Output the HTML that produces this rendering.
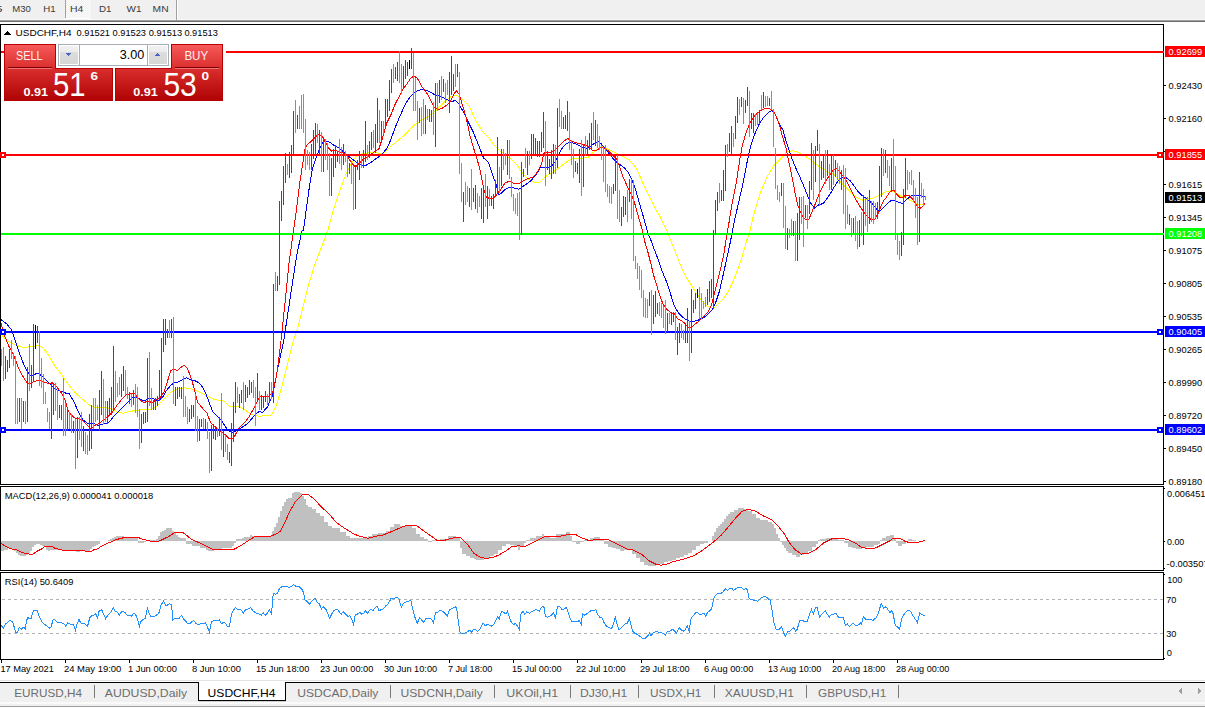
<!DOCTYPE html>
<html><head><meta charset="utf-8"><style>
html,body{margin:0;padding:0;background:#fff;}
#root{position:relative;width:1205px;height:709px;overflow:hidden;font-family:"Liberation Sans", sans-serif;}
svg{position:absolute;left:0;top:0;}
svg text{font-family:"Liberation Sans", sans-serif;}
</style></head><body><div id="root">
<svg width="1205" height="709" viewBox="0 0 1205 709" shape-rendering="crispEdges">
<defs>
<pattern id="dith" width="2" height="2" patternUnits="userSpaceOnUse"><rect width="2" height="2" fill="#f0f0f0"/><rect width="1" height="1" fill="#fcfcfc"/><rect x="1" y="1" width="1" height="1" fill="#fcfcfc"/></pattern>
<linearGradient id="gsell" x1="0" y1="45" x2="0" y2="100" gradientUnits="userSpaceOnUse"><stop offset="0" stop-color="#f65a5a"/><stop offset="0.4" stop-color="#dc3030"/><stop offset="1" stop-color="#b00404"/></linearGradient>
<linearGradient id="gbtn" x1="0" y1="0" x2="0" y2="1"><stop offset="0" stop-color="#f2f2f2"/><stop offset="0.33" stop-color="#ebebeb"/><stop offset="0.34" stop-color="#dddddd"/><stop offset="1" stop-color="#d6d6d6"/></linearGradient>
</defs>
<rect x="0" y="0" width="1205" height="20" fill="#f0f0f0"/>
<rect x="0" y="19" width="1205" height="1" fill="#f7f7f7"/>
<rect x="0" y="20" width="1205" height="1" fill="#a0a0a0"/>
<rect x="0" y="21" width="1205" height="1" fill="#6e6e6e"/>
<rect x="66" y="0" width="25" height="18" fill="url(#dith)"/>
<rect x="65" y="0" width="1" height="18" fill="#a0a0a0"/>
<rect x="66" y="18" width="25" height="1" fill="#ffffff"/>
<rect x="176" y="0" width="1" height="20" fill="#a0a0a0"/>
<rect x="177" y="0" width="1" height="20" fill="#ffffff"/>
<text x="-4.6" y="12" font-size="9.8" fill="#3a3a3a" textLength="7.0" lengthAdjust="spacingAndGlyphs">5</text>
<text x="12.2" y="12" font-size="9.8" fill="#3a3a3a" textLength="18.6" lengthAdjust="spacingAndGlyphs">M30</text>
<text x="43.2" y="12" font-size="9.8" fill="#3a3a3a" textLength="12.4" lengthAdjust="spacingAndGlyphs">H1</text>
<text x="70.1" y="12" font-size="9.8" fill="#3a3a3a" textLength="13.3" lengthAdjust="spacingAndGlyphs">H4</text>
<text x="99.0" y="12" font-size="9.8" fill="#3a3a3a" textLength="12.5" lengthAdjust="spacingAndGlyphs">D1</text>
<text x="126.5" y="12" font-size="9.8" fill="#3a3a3a" textLength="15" lengthAdjust="spacingAndGlyphs">W1</text>
<text x="152.6" y="12" font-size="9.8" fill="#3a3a3a" textLength="16" lengthAdjust="spacingAndGlyphs">MN</text>
<rect x="0" y="541" width="2" height="10" fill="#c0c0c0"/>
<rect x="2" y="541" width="2" height="10" fill="#c0c0c0"/>
<rect x="4" y="541" width="2" height="9" fill="#c0c0c0"/>
<rect x="6" y="541" width="2" height="9" fill="#c0c0c0"/>
<rect x="8" y="541" width="2" height="7" fill="#c0c0c0"/>
<rect x="10" y="541" width="2" height="7" fill="#c0c0c0"/>
<rect x="12" y="541" width="2" height="8" fill="#c0c0c0"/>
<rect x="14" y="541" width="2" height="10" fill="#c0c0c0"/>
<rect x="16" y="541" width="2" height="12" fill="#c0c0c0"/>
<rect x="18" y="541" width="2" height="14" fill="#c0c0c0"/>
<rect x="20" y="541" width="2" height="15" fill="#c0c0c0"/>
<rect x="22" y="541" width="2" height="15" fill="#c0c0c0"/>
<rect x="24" y="541" width="2" height="15" fill="#c0c0c0"/>
<rect x="26" y="541" width="2" height="14" fill="#c0c0c0"/>
<rect x="28" y="541" width="2" height="12" fill="#c0c0c0"/>
<rect x="30" y="541" width="2" height="10" fill="#c0c0c0"/>
<rect x="32" y="541" width="2" height="6" fill="#c0c0c0"/>
<rect x="34" y="541" width="2" height="4" fill="#c0c0c0"/>
<rect x="36" y="541" width="2" height="3" fill="#c0c0c0"/>
<rect x="38" y="541" width="2" height="3" fill="#c0c0c0"/>
<rect x="40" y="541" width="2" height="4" fill="#c0c0c0"/>
<rect x="42" y="541" width="2" height="5" fill="#c0c0c0"/>
<rect x="44" y="541" width="2" height="6" fill="#c0c0c0"/>
<rect x="46" y="541" width="2" height="9" fill="#c0c0c0"/>
<rect x="48" y="541" width="2" height="10" fill="#c0c0c0"/>
<rect x="50" y="541" width="2" height="9" fill="#c0c0c0"/>
<rect x="52" y="541" width="2" height="9" fill="#c0c0c0"/>
<rect x="54" y="541" width="2" height="9" fill="#c0c0c0"/>
<rect x="56" y="541" width="2" height="9" fill="#c0c0c0"/>
<rect x="58" y="541" width="2" height="8" fill="#c0c0c0"/>
<rect x="60" y="541" width="2" height="8" fill="#c0c0c0"/>
<rect x="62" y="541" width="2" height="9" fill="#c0c0c0"/>
<rect x="64" y="541" width="2" height="9" fill="#c0c0c0"/>
<rect x="66" y="541" width="2" height="10" fill="#c0c0c0"/>
<rect x="68" y="541" width="2" height="10" fill="#c0c0c0"/>
<rect x="70" y="541" width="2" height="10" fill="#c0c0c0"/>
<rect x="72" y="541" width="2" height="10" fill="#c0c0c0"/>
<rect x="74" y="541" width="2" height="10" fill="#c0c0c0"/>
<rect x="76" y="541" width="2" height="11" fill="#c0c0c0"/>
<rect x="78" y="541" width="2" height="11" fill="#c0c0c0"/>
<rect x="80" y="541" width="2" height="10" fill="#c0c0c0"/>
<rect x="82" y="541" width="2" height="10" fill="#c0c0c0"/>
<rect x="84" y="541" width="2" height="10" fill="#c0c0c0"/>
<rect x="86" y="541" width="2" height="10" fill="#c0c0c0"/>
<rect x="88" y="541" width="2" height="10" fill="#c0c0c0"/>
<rect x="90" y="541" width="2" height="8" fill="#c0c0c0"/>
<rect x="92" y="541" width="2" height="6" fill="#c0c0c0"/>
<rect x="94" y="541" width="2" height="5" fill="#c0c0c0"/>
<rect x="96" y="541" width="2" height="4" fill="#c0c0c0"/>
<rect x="98" y="541" width="2" height="3" fill="#c0c0c0"/>
<rect x="108" y="540" width="2" height="1" fill="#c0c0c0"/>
<rect x="110" y="539" width="2" height="2" fill="#c0c0c0"/>
<rect x="112" y="538" width="2" height="3" fill="#c0c0c0"/>
<rect x="114" y="537" width="2" height="4" fill="#c0c0c0"/>
<rect x="116" y="536" width="2" height="5" fill="#c0c0c0"/>
<rect x="118" y="536" width="2" height="5" fill="#c0c0c0"/>
<rect x="120" y="536" width="2" height="5" fill="#c0c0c0"/>
<rect x="122" y="536" width="2" height="5" fill="#c0c0c0"/>
<rect x="124" y="537" width="2" height="4" fill="#c0c0c0"/>
<rect x="126" y="538" width="2" height="3" fill="#c0c0c0"/>
<rect x="128" y="538" width="2" height="3" fill="#c0c0c0"/>
<rect x="130" y="538" width="2" height="3" fill="#c0c0c0"/>
<rect x="132" y="538" width="2" height="3" fill="#c0c0c0"/>
<rect x="134" y="538" width="2" height="3" fill="#c0c0c0"/>
<rect x="136" y="538" width="2" height="3" fill="#c0c0c0"/>
<rect x="138" y="541" width="2" height="2" fill="#c0c0c0"/>
<rect x="140" y="541" width="2" height="2" fill="#c0c0c0"/>
<rect x="142" y="541" width="2" height="2" fill="#c0c0c0"/>
<rect x="144" y="541" width="2" height="1" fill="#c0c0c0"/>
<rect x="146" y="540" width="2" height="1" fill="#c0c0c0"/>
<rect x="148" y="540" width="2" height="1" fill="#c0c0c0"/>
<rect x="150" y="540" width="2" height="1" fill="#c0c0c0"/>
<rect x="152" y="540" width="2" height="1" fill="#c0c0c0"/>
<rect x="154" y="540" width="2" height="1" fill="#c0c0c0"/>
<rect x="156" y="539" width="2" height="2" fill="#c0c0c0"/>
<rect x="158" y="536" width="2" height="5" fill="#c0c0c0"/>
<rect x="160" y="532" width="2" height="9" fill="#c0c0c0"/>
<rect x="162" y="531" width="2" height="10" fill="#c0c0c0"/>
<rect x="164" y="530" width="2" height="11" fill="#c0c0c0"/>
<rect x="166" y="528" width="2" height="13" fill="#c0c0c0"/>
<rect x="168" y="528" width="2" height="13" fill="#c0c0c0"/>
<rect x="170" y="528" width="2" height="13" fill="#c0c0c0"/>
<rect x="172" y="531" width="2" height="10" fill="#c0c0c0"/>
<rect x="174" y="533" width="2" height="8" fill="#c0c0c0"/>
<rect x="176" y="535" width="2" height="6" fill="#c0c0c0"/>
<rect x="178" y="537" width="2" height="4" fill="#c0c0c0"/>
<rect x="180" y="538" width="2" height="3" fill="#c0c0c0"/>
<rect x="182" y="538" width="2" height="3" fill="#c0c0c0"/>
<rect x="184" y="538" width="2" height="3" fill="#c0c0c0"/>
<rect x="186" y="541" width="2" height="3" fill="#c0c0c0"/>
<rect x="188" y="541" width="2" height="3" fill="#c0c0c0"/>
<rect x="190" y="541" width="2" height="3" fill="#c0c0c0"/>
<rect x="192" y="541" width="2" height="5" fill="#c0c0c0"/>
<rect x="194" y="541" width="2" height="5" fill="#c0c0c0"/>
<rect x="196" y="541" width="2" height="5" fill="#c0c0c0"/>
<rect x="198" y="541" width="2" height="5" fill="#c0c0c0"/>
<rect x="200" y="541" width="2" height="7" fill="#c0c0c0"/>
<rect x="202" y="541" width="2" height="7" fill="#c0c0c0"/>
<rect x="204" y="541" width="2" height="7" fill="#c0c0c0"/>
<rect x="206" y="541" width="2" height="9" fill="#c0c0c0"/>
<rect x="208" y="541" width="2" height="10" fill="#c0c0c0"/>
<rect x="210" y="541" width="2" height="10" fill="#c0c0c0"/>
<rect x="212" y="541" width="2" height="10" fill="#c0c0c0"/>
<rect x="214" y="541" width="2" height="9" fill="#c0c0c0"/>
<rect x="216" y="541" width="2" height="9" fill="#c0c0c0"/>
<rect x="218" y="541" width="2" height="9" fill="#c0c0c0"/>
<rect x="220" y="541" width="2" height="8" fill="#c0c0c0"/>
<rect x="222" y="541" width="2" height="7" fill="#c0c0c0"/>
<rect x="224" y="541" width="2" height="7" fill="#c0c0c0"/>
<rect x="226" y="541" width="2" height="7" fill="#c0c0c0"/>
<rect x="228" y="541" width="2" height="7" fill="#c0c0c0"/>
<rect x="230" y="541" width="2" height="7" fill="#c0c0c0"/>
<rect x="232" y="541" width="2" height="5" fill="#c0c0c0"/>
<rect x="234" y="541" width="2" height="2" fill="#c0c0c0"/>
<rect x="236" y="539" width="2" height="2" fill="#c0c0c0"/>
<rect x="238" y="539" width="2" height="2" fill="#c0c0c0"/>
<rect x="240" y="539" width="2" height="2" fill="#c0c0c0"/>
<rect x="242" y="538" width="2" height="3" fill="#c0c0c0"/>
<rect x="244" y="537" width="2" height="4" fill="#c0c0c0"/>
<rect x="246" y="537" width="2" height="4" fill="#c0c0c0"/>
<rect x="248" y="537" width="2" height="4" fill="#c0c0c0"/>
<rect x="250" y="535" width="2" height="6" fill="#c0c0c0"/>
<rect x="252" y="536" width="2" height="5" fill="#c0c0c0"/>
<rect x="254" y="536" width="2" height="5" fill="#c0c0c0"/>
<rect x="256" y="536" width="2" height="5" fill="#c0c0c0"/>
<rect x="258" y="536" width="2" height="5" fill="#c0c0c0"/>
<rect x="260" y="536" width="2" height="5" fill="#c0c0c0"/>
<rect x="262" y="536" width="2" height="5" fill="#c0c0c0"/>
<rect x="264" y="536" width="2" height="5" fill="#c0c0c0"/>
<rect x="266" y="536" width="2" height="5" fill="#c0c0c0"/>
<rect x="268" y="536" width="2" height="5" fill="#c0c0c0"/>
<rect x="270" y="536" width="2" height="5" fill="#c0c0c0"/>
<rect x="272" y="531" width="2" height="10" fill="#c0c0c0"/>
<rect x="274" y="527" width="2" height="14" fill="#c0c0c0"/>
<rect x="276" y="523" width="2" height="18" fill="#c0c0c0"/>
<rect x="278" y="517" width="2" height="24" fill="#c0c0c0"/>
<rect x="280" y="511" width="2" height="30" fill="#c0c0c0"/>
<rect x="282" y="506" width="2" height="35" fill="#c0c0c0"/>
<rect x="284" y="502" width="2" height="39" fill="#c0c0c0"/>
<rect x="286" y="499" width="2" height="42" fill="#c0c0c0"/>
<rect x="288" y="498" width="2" height="43" fill="#c0c0c0"/>
<rect x="290" y="498" width="2" height="43" fill="#c0c0c0"/>
<rect x="292" y="493" width="2" height="48" fill="#c0c0c0"/>
<rect x="294" y="492" width="2" height="49" fill="#c0c0c0"/>
<rect x="296" y="492" width="2" height="49" fill="#c0c0c0"/>
<rect x="298" y="492" width="2" height="49" fill="#c0c0c0"/>
<rect x="300" y="493" width="2" height="48" fill="#c0c0c0"/>
<rect x="302" y="496" width="2" height="45" fill="#c0c0c0"/>
<rect x="304" y="499" width="2" height="42" fill="#c0c0c0"/>
<rect x="306" y="505" width="2" height="36" fill="#c0c0c0"/>
<rect x="308" y="507" width="2" height="34" fill="#c0c0c0"/>
<rect x="310" y="507" width="2" height="34" fill="#c0c0c0"/>
<rect x="312" y="509" width="2" height="32" fill="#c0c0c0"/>
<rect x="314" y="509" width="2" height="32" fill="#c0c0c0"/>
<rect x="316" y="513" width="2" height="28" fill="#c0c0c0"/>
<rect x="318" y="513" width="2" height="28" fill="#c0c0c0"/>
<rect x="320" y="516" width="2" height="25" fill="#c0c0c0"/>
<rect x="322" y="516" width="2" height="25" fill="#c0c0c0"/>
<rect x="324" y="522" width="2" height="19" fill="#c0c0c0"/>
<rect x="326" y="522" width="2" height="19" fill="#c0c0c0"/>
<rect x="328" y="526" width="2" height="15" fill="#c0c0c0"/>
<rect x="330" y="526" width="2" height="15" fill="#c0c0c0"/>
<rect x="332" y="528" width="2" height="13" fill="#c0c0c0"/>
<rect x="334" y="528" width="2" height="13" fill="#c0c0c0"/>
<rect x="336" y="528" width="2" height="13" fill="#c0c0c0"/>
<rect x="338" y="528" width="2" height="13" fill="#c0c0c0"/>
<rect x="340" y="532" width="2" height="9" fill="#c0c0c0"/>
<rect x="342" y="532" width="2" height="9" fill="#c0c0c0"/>
<rect x="344" y="532" width="2" height="9" fill="#c0c0c0"/>
<rect x="346" y="536" width="2" height="5" fill="#c0c0c0"/>
<rect x="348" y="536" width="2" height="5" fill="#c0c0c0"/>
<rect x="350" y="538" width="2" height="3" fill="#c0c0c0"/>
<rect x="352" y="538" width="2" height="3" fill="#c0c0c0"/>
<rect x="354" y="538" width="2" height="3" fill="#c0c0c0"/>
<rect x="356" y="538" width="2" height="3" fill="#c0c0c0"/>
<rect x="358" y="538" width="2" height="3" fill="#c0c0c0"/>
<rect x="360" y="538" width="2" height="3" fill="#c0c0c0"/>
<rect x="362" y="538" width="2" height="3" fill="#c0c0c0"/>
<rect x="364" y="538" width="2" height="3" fill="#c0c0c0"/>
<rect x="366" y="538" width="2" height="3" fill="#c0c0c0"/>
<rect x="368" y="536" width="2" height="5" fill="#c0c0c0"/>
<rect x="370" y="536" width="2" height="5" fill="#c0c0c0"/>
<rect x="372" y="534" width="2" height="7" fill="#c0c0c0"/>
<rect x="374" y="534" width="2" height="7" fill="#c0c0c0"/>
<rect x="376" y="534" width="2" height="7" fill="#c0c0c0"/>
<rect x="378" y="533" width="2" height="8" fill="#c0c0c0"/>
<rect x="380" y="533" width="2" height="8" fill="#c0c0c0"/>
<rect x="382" y="533" width="2" height="8" fill="#c0c0c0"/>
<rect x="384" y="533" width="2" height="8" fill="#c0c0c0"/>
<rect x="386" y="531" width="2" height="10" fill="#c0c0c0"/>
<rect x="388" y="531" width="2" height="10" fill="#c0c0c0"/>
<rect x="390" y="527" width="2" height="14" fill="#c0c0c0"/>
<rect x="392" y="527" width="2" height="14" fill="#c0c0c0"/>
<rect x="394" y="524" width="2" height="17" fill="#c0c0c0"/>
<rect x="396" y="524" width="2" height="17" fill="#c0c0c0"/>
<rect x="398" y="524" width="2" height="17" fill="#c0c0c0"/>
<rect x="400" y="526" width="2" height="15" fill="#c0c0c0"/>
<rect x="402" y="526" width="2" height="15" fill="#c0c0c0"/>
<rect x="404" y="526" width="2" height="15" fill="#c0c0c0"/>
<rect x="406" y="526" width="2" height="15" fill="#c0c0c0"/>
<rect x="408" y="526" width="2" height="15" fill="#c0c0c0"/>
<rect x="410" y="526" width="2" height="15" fill="#c0c0c0"/>
<rect x="412" y="528" width="2" height="13" fill="#c0c0c0"/>
<rect x="414" y="528" width="2" height="13" fill="#c0c0c0"/>
<rect x="416" y="534" width="2" height="7" fill="#c0c0c0"/>
<rect x="418" y="534" width="2" height="7" fill="#c0c0c0"/>
<rect x="420" y="537" width="2" height="4" fill="#c0c0c0"/>
<rect x="422" y="537" width="2" height="4" fill="#c0c0c0"/>
<rect x="424" y="539" width="2" height="2" fill="#c0c0c0"/>
<rect x="426" y="539" width="2" height="2" fill="#c0c0c0"/>
<rect x="428" y="541" width="2" height="1" fill="#c0c0c0"/>
<rect x="430" y="541" width="2" height="1" fill="#c0c0c0"/>
<rect x="432" y="540" width="2" height="1" fill="#c0c0c0"/>
<rect x="434" y="540" width="2" height="1" fill="#c0c0c0"/>
<rect x="436" y="540" width="2" height="1" fill="#c0c0c0"/>
<rect x="438" y="540" width="2" height="1" fill="#c0c0c0"/>
<rect x="440" y="539" width="2" height="2" fill="#c0c0c0"/>
<rect x="442" y="539" width="2" height="2" fill="#c0c0c0"/>
<rect x="444" y="539" width="2" height="2" fill="#c0c0c0"/>
<rect x="446" y="539" width="2" height="2" fill="#c0c0c0"/>
<rect x="448" y="536" width="2" height="5" fill="#c0c0c0"/>
<rect x="450" y="536" width="2" height="5" fill="#c0c0c0"/>
<rect x="452" y="536" width="2" height="5" fill="#c0c0c0"/>
<rect x="454" y="536" width="2" height="5" fill="#c0c0c0"/>
<rect x="456" y="537" width="2" height="4" fill="#c0c0c0"/>
<rect x="458" y="537" width="2" height="4" fill="#c0c0c0"/>
<rect x="460" y="541" width="2" height="7" fill="#c0c0c0"/>
<rect x="462" y="541" width="2" height="13" fill="#c0c0c0"/>
<rect x="464" y="541" width="2" height="13" fill="#c0c0c0"/>
<rect x="466" y="541" width="2" height="15" fill="#c0c0c0"/>
<rect x="468" y="541" width="2" height="15" fill="#c0c0c0"/>
<rect x="470" y="541" width="2" height="17" fill="#c0c0c0"/>
<rect x="472" y="541" width="2" height="17" fill="#c0c0c0"/>
<rect x="474" y="541" width="2" height="18" fill="#c0c0c0"/>
<rect x="476" y="541" width="2" height="19" fill="#c0c0c0"/>
<rect x="478" y="541" width="2" height="19" fill="#c0c0c0"/>
<rect x="480" y="541" width="2" height="19" fill="#c0c0c0"/>
<rect x="482" y="541" width="2" height="19" fill="#c0c0c0"/>
<rect x="484" y="541" width="2" height="17" fill="#c0c0c0"/>
<rect x="486" y="541" width="2" height="17" fill="#c0c0c0"/>
<rect x="488" y="541" width="2" height="17" fill="#c0c0c0"/>
<rect x="490" y="541" width="2" height="15" fill="#c0c0c0"/>
<rect x="492" y="541" width="2" height="15" fill="#c0c0c0"/>
<rect x="494" y="541" width="2" height="13" fill="#c0c0c0"/>
<rect x="496" y="541" width="2" height="13" fill="#c0c0c0"/>
<rect x="498" y="541" width="2" height="9" fill="#c0c0c0"/>
<rect x="500" y="541" width="2" height="9" fill="#c0c0c0"/>
<rect x="502" y="541" width="2" height="5" fill="#c0c0c0"/>
<rect x="504" y="541" width="2" height="5" fill="#c0c0c0"/>
<rect x="506" y="541" width="2" height="3" fill="#c0c0c0"/>
<rect x="508" y="541" width="2" height="3" fill="#c0c0c0"/>
<rect x="510" y="541" width="2" height="4" fill="#c0c0c0"/>
<rect x="512" y="541" width="2" height="4" fill="#c0c0c0"/>
<rect x="514" y="541" width="2" height="5" fill="#c0c0c0"/>
<rect x="516" y="541" width="2" height="5" fill="#c0c0c0"/>
<rect x="518" y="541" width="2" height="9" fill="#c0c0c0"/>
<rect x="520" y="541" width="2" height="5" fill="#c0c0c0"/>
<rect x="522" y="541" width="2" height="5" fill="#c0c0c0"/>
<rect x="524" y="541" width="2" height="2" fill="#c0c0c0"/>
<rect x="526" y="540" width="2" height="1" fill="#c0c0c0"/>
<rect x="528" y="540" width="2" height="1" fill="#c0c0c0"/>
<rect x="530" y="538" width="2" height="3" fill="#c0c0c0"/>
<rect x="532" y="538" width="2" height="3" fill="#c0c0c0"/>
<rect x="534" y="538" width="2" height="3" fill="#c0c0c0"/>
<rect x="536" y="536" width="2" height="5" fill="#c0c0c0"/>
<rect x="538" y="536" width="2" height="5" fill="#c0c0c0"/>
<rect x="540" y="536" width="2" height="5" fill="#c0c0c0"/>
<rect x="542" y="534" width="2" height="7" fill="#c0c0c0"/>
<rect x="544" y="537" width="2" height="4" fill="#c0c0c0"/>
<rect x="546" y="537" width="2" height="4" fill="#c0c0c0"/>
<rect x="548" y="537" width="2" height="4" fill="#c0c0c0"/>
<rect x="550" y="538" width="2" height="3" fill="#c0c0c0"/>
<rect x="552" y="538" width="2" height="3" fill="#c0c0c0"/>
<rect x="554" y="538" width="2" height="3" fill="#c0c0c0"/>
<rect x="556" y="534" width="2" height="7" fill="#c0c0c0"/>
<rect x="558" y="534" width="2" height="7" fill="#c0c0c0"/>
<rect x="560" y="534" width="2" height="7" fill="#c0c0c0"/>
<rect x="562" y="534" width="2" height="7" fill="#c0c0c0"/>
<rect x="564" y="534" width="2" height="7" fill="#c0c0c0"/>
<rect x="566" y="532" width="2" height="9" fill="#c0c0c0"/>
<rect x="568" y="532" width="2" height="9" fill="#c0c0c0"/>
<rect x="570" y="536" width="2" height="5" fill="#c0c0c0"/>
<rect x="572" y="541" width="2" height="1" fill="#c0c0c0"/>
<rect x="574" y="541" width="2" height="1" fill="#c0c0c0"/>
<rect x="576" y="541" width="2" height="3" fill="#c0c0c0"/>
<rect x="578" y="541" width="2" height="3" fill="#c0c0c0"/>
<rect x="580" y="541" width="2" height="1" fill="#c0c0c0"/>
<rect x="582" y="541" width="2" height="1" fill="#c0c0c0"/>
<rect x="584" y="540" width="2" height="1" fill="#c0c0c0"/>
<rect x="586" y="540" width="2" height="1" fill="#c0c0c0"/>
<rect x="588" y="540" width="2" height="1" fill="#c0c0c0"/>
<rect x="590" y="538" width="2" height="3" fill="#c0c0c0"/>
<rect x="592" y="538" width="2" height="3" fill="#c0c0c0"/>
<rect x="594" y="537" width="2" height="4" fill="#c0c0c0"/>
<rect x="596" y="537" width="2" height="4" fill="#c0c0c0"/>
<rect x="598" y="537" width="2" height="4" fill="#c0c0c0"/>
<rect x="600" y="539" width="2" height="2" fill="#c0c0c0"/>
<rect x="602" y="539" width="2" height="2" fill="#c0c0c0"/>
<rect x="604" y="541" width="2" height="3" fill="#c0c0c0"/>
<rect x="606" y="541" width="2" height="3" fill="#c0c0c0"/>
<rect x="608" y="541" width="2" height="6" fill="#c0c0c0"/>
<rect x="610" y="541" width="2" height="6" fill="#c0c0c0"/>
<rect x="612" y="541" width="2" height="7" fill="#c0c0c0"/>
<rect x="614" y="541" width="2" height="7" fill="#c0c0c0"/>
<rect x="616" y="541" width="2" height="8" fill="#c0c0c0"/>
<rect x="618" y="541" width="2" height="8" fill="#c0c0c0"/>
<rect x="620" y="541" width="2" height="10" fill="#c0c0c0"/>
<rect x="622" y="541" width="2" height="10" fill="#c0c0c0"/>
<rect x="624" y="541" width="2" height="9" fill="#c0c0c0"/>
<rect x="626" y="541" width="2" height="9" fill="#c0c0c0"/>
<rect x="628" y="541" width="2" height="9" fill="#c0c0c0"/>
<rect x="630" y="541" width="2" height="9" fill="#c0c0c0"/>
<rect x="632" y="541" width="2" height="13" fill="#c0c0c0"/>
<rect x="634" y="541" width="2" height="13" fill="#c0c0c0"/>
<rect x="636" y="541" width="2" height="17" fill="#c0c0c0"/>
<rect x="638" y="541" width="2" height="17" fill="#c0c0c0"/>
<rect x="640" y="541" width="2" height="21" fill="#c0c0c0"/>
<rect x="642" y="541" width="2" height="21" fill="#c0c0c0"/>
<rect x="644" y="541" width="2" height="24" fill="#c0c0c0"/>
<rect x="646" y="541" width="2" height="24" fill="#c0c0c0"/>
<rect x="648" y="541" width="2" height="25" fill="#c0c0c0"/>
<rect x="650" y="541" width="2" height="25" fill="#c0c0c0"/>
<rect x="652" y="541" width="2" height="25" fill="#c0c0c0"/>
<rect x="654" y="541" width="2" height="25" fill="#c0c0c0"/>
<rect x="656" y="541" width="2" height="23" fill="#c0c0c0"/>
<rect x="658" y="541" width="2" height="23" fill="#c0c0c0"/>
<rect x="660" y="541" width="2" height="23" fill="#c0c0c0"/>
<rect x="662" y="541" width="2" height="23" fill="#c0c0c0"/>
<rect x="664" y="541" width="2" height="21" fill="#c0c0c0"/>
<rect x="666" y="541" width="2" height="21" fill="#c0c0c0"/>
<rect x="668" y="541" width="2" height="20" fill="#c0c0c0"/>
<rect x="670" y="541" width="2" height="20" fill="#c0c0c0"/>
<rect x="672" y="541" width="2" height="19" fill="#c0c0c0"/>
<rect x="674" y="541" width="2" height="19" fill="#c0c0c0"/>
<rect x="676" y="541" width="2" height="17" fill="#c0c0c0"/>
<rect x="678" y="541" width="2" height="17" fill="#c0c0c0"/>
<rect x="680" y="541" width="2" height="16" fill="#c0c0c0"/>
<rect x="682" y="541" width="2" height="16" fill="#c0c0c0"/>
<rect x="684" y="541" width="2" height="14" fill="#c0c0c0"/>
<rect x="686" y="541" width="2" height="14" fill="#c0c0c0"/>
<rect x="688" y="541" width="2" height="12" fill="#c0c0c0"/>
<rect x="690" y="541" width="2" height="12" fill="#c0c0c0"/>
<rect x="692" y="541" width="2" height="9" fill="#c0c0c0"/>
<rect x="694" y="541" width="2" height="9" fill="#c0c0c0"/>
<rect x="696" y="541" width="2" height="5" fill="#c0c0c0"/>
<rect x="698" y="541" width="2" height="5" fill="#c0c0c0"/>
<rect x="700" y="541" width="2" height="3" fill="#c0c0c0"/>
<rect x="702" y="541" width="2" height="3" fill="#c0c0c0"/>
<rect x="704" y="541" width="2" height="2" fill="#c0c0c0"/>
<rect x="706" y="541" width="2" height="2" fill="#c0c0c0"/>
<rect x="712" y="536" width="2" height="5" fill="#c0c0c0"/>
<rect x="714" y="532" width="2" height="9" fill="#c0c0c0"/>
<rect x="716" y="528" width="2" height="13" fill="#c0c0c0"/>
<rect x="718" y="526" width="2" height="15" fill="#c0c0c0"/>
<rect x="720" y="524" width="2" height="17" fill="#c0c0c0"/>
<rect x="722" y="522" width="2" height="19" fill="#c0c0c0"/>
<rect x="724" y="519" width="2" height="22" fill="#c0c0c0"/>
<rect x="726" y="516" width="2" height="25" fill="#c0c0c0"/>
<rect x="728" y="514" width="2" height="27" fill="#c0c0c0"/>
<rect x="730" y="512" width="2" height="29" fill="#c0c0c0"/>
<rect x="732" y="512" width="2" height="29" fill="#c0c0c0"/>
<rect x="734" y="510" width="2" height="31" fill="#c0c0c0"/>
<rect x="736" y="510" width="2" height="31" fill="#c0c0c0"/>
<rect x="738" y="508" width="2" height="33" fill="#c0c0c0"/>
<rect x="740" y="508" width="2" height="33" fill="#c0c0c0"/>
<rect x="742" y="508" width="2" height="33" fill="#c0c0c0"/>
<rect x="744" y="509" width="2" height="32" fill="#c0c0c0"/>
<rect x="746" y="509" width="2" height="32" fill="#c0c0c0"/>
<rect x="748" y="511" width="2" height="30" fill="#c0c0c0"/>
<rect x="750" y="511" width="2" height="30" fill="#c0c0c0"/>
<rect x="752" y="514" width="2" height="27" fill="#c0c0c0"/>
<rect x="754" y="514" width="2" height="27" fill="#c0c0c0"/>
<rect x="756" y="518" width="2" height="23" fill="#c0c0c0"/>
<rect x="758" y="518" width="2" height="23" fill="#c0c0c0"/>
<rect x="760" y="520" width="2" height="21" fill="#c0c0c0"/>
<rect x="762" y="520" width="2" height="21" fill="#c0c0c0"/>
<rect x="764" y="520" width="2" height="21" fill="#c0c0c0"/>
<rect x="766" y="520" width="2" height="21" fill="#c0c0c0"/>
<rect x="768" y="522" width="2" height="19" fill="#c0c0c0"/>
<rect x="770" y="522" width="2" height="19" fill="#c0c0c0"/>
<rect x="772" y="524" width="2" height="17" fill="#c0c0c0"/>
<rect x="774" y="528" width="2" height="13" fill="#c0c0c0"/>
<rect x="776" y="534" width="2" height="7" fill="#c0c0c0"/>
<rect x="778" y="538" width="2" height="3" fill="#c0c0c0"/>
<rect x="780" y="541" width="2" height="1" fill="#c0c0c0"/>
<rect x="782" y="541" width="2" height="4" fill="#c0c0c0"/>
<rect x="784" y="541" width="2" height="7" fill="#c0c0c0"/>
<rect x="786" y="541" width="2" height="10" fill="#c0c0c0"/>
<rect x="788" y="541" width="2" height="12" fill="#c0c0c0"/>
<rect x="790" y="541" width="2" height="12" fill="#c0c0c0"/>
<rect x="792" y="541" width="2" height="14" fill="#c0c0c0"/>
<rect x="794" y="541" width="2" height="14" fill="#c0c0c0"/>
<rect x="796" y="541" width="2" height="16" fill="#c0c0c0"/>
<rect x="798" y="541" width="2" height="16" fill="#c0c0c0"/>
<rect x="800" y="541" width="2" height="14" fill="#c0c0c0"/>
<rect x="802" y="541" width="2" height="14" fill="#c0c0c0"/>
<rect x="804" y="541" width="2" height="12" fill="#c0c0c0"/>
<rect x="806" y="541" width="2" height="12" fill="#c0c0c0"/>
<rect x="808" y="541" width="2" height="10" fill="#c0c0c0"/>
<rect x="810" y="541" width="2" height="10" fill="#c0c0c0"/>
<rect x="812" y="541" width="2" height="6" fill="#c0c0c0"/>
<rect x="814" y="541" width="2" height="6" fill="#c0c0c0"/>
<rect x="816" y="541" width="2" height="3" fill="#c0c0c0"/>
<rect x="818" y="540" width="2" height="1" fill="#c0c0c0"/>
<rect x="820" y="539" width="2" height="2" fill="#c0c0c0"/>
<rect x="822" y="539" width="2" height="2" fill="#c0c0c0"/>
<rect x="824" y="539" width="2" height="2" fill="#c0c0c0"/>
<rect x="826" y="538" width="2" height="3" fill="#c0c0c0"/>
<rect x="828" y="538" width="2" height="3" fill="#c0c0c0"/>
<rect x="830" y="538" width="2" height="3" fill="#c0c0c0"/>
<rect x="832" y="538" width="2" height="3" fill="#c0c0c0"/>
<rect x="834" y="538" width="2" height="3" fill="#c0c0c0"/>
<rect x="836" y="538" width="2" height="3" fill="#c0c0c0"/>
<rect x="838" y="540" width="2" height="1" fill="#c0c0c0"/>
<rect x="840" y="540" width="2" height="1" fill="#c0c0c0"/>
<rect x="842" y="540" width="2" height="1" fill="#c0c0c0"/>
<rect x="844" y="541" width="2" height="2" fill="#c0c0c0"/>
<rect x="846" y="541" width="2" height="2" fill="#c0c0c0"/>
<rect x="848" y="541" width="2" height="6" fill="#c0c0c0"/>
<rect x="850" y="541" width="2" height="6" fill="#c0c0c0"/>
<rect x="852" y="541" width="2" height="7" fill="#c0c0c0"/>
<rect x="854" y="541" width="2" height="7" fill="#c0c0c0"/>
<rect x="856" y="541" width="2" height="8" fill="#c0c0c0"/>
<rect x="858" y="541" width="2" height="8" fill="#c0c0c0"/>
<rect x="860" y="541" width="2" height="8" fill="#c0c0c0"/>
<rect x="862" y="541" width="2" height="7" fill="#c0c0c0"/>
<rect x="864" y="541" width="2" height="7" fill="#c0c0c0"/>
<rect x="866" y="541" width="2" height="6" fill="#c0c0c0"/>
<rect x="868" y="541" width="2" height="6" fill="#c0c0c0"/>
<rect x="870" y="541" width="2" height="6" fill="#c0c0c0"/>
<rect x="872" y="541" width="2" height="6" fill="#c0c0c0"/>
<rect x="874" y="541" width="2" height="4" fill="#c0c0c0"/>
<rect x="876" y="541" width="2" height="4" fill="#c0c0c0"/>
<rect x="878" y="541" width="2" height="3" fill="#c0c0c0"/>
<rect x="880" y="540" width="2" height="1" fill="#c0c0c0"/>
<rect x="882" y="538" width="2" height="3" fill="#c0c0c0"/>
<rect x="884" y="538" width="2" height="3" fill="#c0c0c0"/>
<rect x="886" y="536" width="2" height="5" fill="#c0c0c0"/>
<rect x="888" y="536" width="2" height="5" fill="#c0c0c0"/>
<rect x="890" y="535" width="2" height="6" fill="#c0c0c0"/>
<rect x="892" y="535" width="2" height="6" fill="#c0c0c0"/>
<rect x="894" y="539" width="2" height="2" fill="#c0c0c0"/>
<rect x="896" y="541" width="2" height="2" fill="#c0c0c0"/>
<rect x="898" y="541" width="2" height="5" fill="#c0c0c0"/>
<rect x="900" y="541" width="2" height="5" fill="#c0c0c0"/>
<rect x="902" y="541" width="2" height="3" fill="#c0c0c0"/>
<rect x="904" y="541" width="2" height="3" fill="#c0c0c0"/>
<rect x="908" y="539" width="2" height="2" fill="#c0c0c0"/>
<rect x="910" y="539" width="2" height="2" fill="#c0c0c0"/>
<rect x="912" y="540" width="2" height="1" fill="#c0c0c0"/>
<rect x="914" y="540" width="2" height="1" fill="#c0c0c0"/>
<path d="M1.0,334.0 L6.8,341.0 L13.5,344.3 L20.3,346.6 L26.0,347.7 L29.3,346.6 L33.9,346.6 L38.4,345.5 L42.9,347.7 L47.4,353.4 L52.0,361.3 L56.4,368.0 L61.0,373.7 L65.5,380.5 L70.6,387.2 L76.3,394.0 L83.0,399.6 L89.8,405.3 L94.3,407.0 L101.0,407.5 L107.9,408.0 L113.5,409.8 L119.0,412.5 L123.7,413.2 L128.2,411.6 L136.8,410.4 L143.5,409.3 L150.3,409.3 L157.0,406.0 L163.9,399.2 L170.6,392.4 L177.4,389.0 L184.2,387.9 L191.0,389.0 L197.7,391.3 L204.7,394.9 L209.6,397.3 L214.5,399.7 L219.3,400.2 L224.2,401.4 L229.0,406.2 L234.0,406.7 L238.8,406.7 L243.7,408.7 L248.5,412.7 L253.4,415.2 L258.3,416.0 L262.0,416.0 L271.4,415.0 L276.7,404.3 L282.1,385.5 L287.5,364.0 L292.8,342.6 L298.2,326.5 L303.6,305.0 L308.9,283.6 L315.6,262.2 L322.0,246.0 L327.9,230.0 L333.8,208.5 L339.7,190.7 L345.7,174.9 L351.6,163.0 L355.5,157.1 L359.5,154.2 L365.4,153.2 L371.3,152.2 L375.0,152.8 L382.9,153.5 L386.8,149.6 L392.8,144.6 L398.7,139.7 L404.6,134.8 L410.5,128.8 L414.5,124.9 L420.4,120.9 L426.3,118.0 L435.4,111.0 L440.7,105.7 L446.1,100.3 L451.4,96.3 L456.8,95.0 L462.2,99.0 L468.9,105.7 L475.6,120.4 L482.3,131.2 L489.5,138.5 L494.0,145.3 L498.5,149.8 L503.1,153.2 L507.6,156.6 L512.1,160.0 L516.6,164.5 L521.1,171.3 L525.6,176.9 L530.1,180.3 L534.7,182.6 L539.2,182.6 L543.9,177.9 L547.9,174.9 L551.8,172.9 L555.8,170.0 L559.7,167.0 L563.7,164.0 L567.6,161.1 L571.6,159.1 L575.5,158.1 L579.5,158.1 L583.4,158.1 L588.4,157.1 L592.3,153.2 L596.3,150.2 L598.9,148.4 L602.9,146.4 L606.8,148.4 L612.8,151.3 L618.7,154.3 L624.6,157.3 L630.5,161.2 L635.5,167.1 L639.4,175.0 L644.4,186.9 L649.3,196.7 L654.2,206.6 L660.0,216.5 L666.6,230.0 L670.5,239.9 L674.4,249.7 L678.4,259.6 L682.3,269.5 L686.3,277.4 L690.2,283.3 L692.0,286.0 L695.9,292.7 L701.8,300.6 L707.8,306.5 L711.7,308.5 L715.7,306.5 L721.6,300.6 L727.5,292.7 L733.4,280.8 L739.4,265.0 L744.3,249.2 L746.8,240.0 L749.2,234.4 L753.5,215.4 L760.3,192.9 L767.0,177.0 L773.9,165.8 L780.6,159.0 L786.8,151.7 L792.8,150.7 L798.7,152.7 L804.6,155.7 L810.5,159.6 L816.5,164.6 L822.4,168.5 L828.3,172.4 L834.0,174.4 L837.9,179.4 L841.8,183.3 L845.8,187.3 L849.7,191.2 L853.7,195.2 L857.6,198.1 L862.6,200.0 L867.5,199.1 L872.4,198.1 L877.4,196.1 L882.3,194.2 L884.0,192.2 L887.9,191.2 L891.8,190.8 L894.8,192.2 L898.8,195.2 L902.7,197.1 L907.6,199.1 L911.6,201.1 L915.5,203.0 L919.5,204.6 L922.4,204.6 L925.0,203.4" stroke="#ffff00" stroke-width="1" fill="none"/>
<path d="M1.0,319.5 L6.8,324.0 L11.3,329.7 L15.8,342.0 L20.3,355.6 L24.8,367.0 L29.3,374.8 L32.7,376.0 L36.0,373.7 L39.5,374.0 L42.9,377.0 L47.4,381.6 L52.0,386.0 L55.3,389.5 L58.7,390.6 L62.0,391.7 L65.5,393.0 L69.5,394.0 L74.0,401.9 L78.5,412.0 L83.0,420.0 L87.6,423.4 L94.3,423.4 L97.7,425.6 L101.0,424.5 L105.6,423.4 L109.0,422.2 L113.5,416.6 L118.0,412.0 L122.6,407.5 L127.0,403.0 L131.6,398.5 L133.4,397.0 L137.9,398.0 L142.4,400.3 L145.8,400.3 L149.2,398.0 L152.6,398.0 L156.0,400.3 L159.3,400.3 L162.7,397.0 L166.0,391.3 L169.5,386.7 L173.0,383.4 L177.4,382.2 L182.0,380.0 L186.4,377.7 L191.0,380.0 L195.5,381.0 L199.0,382.7 L202.3,386.8 L206.4,394.9 L209.6,403.8 L212.8,411.9 L217.7,416.8 L221.0,420.0 L224.2,424.9 L227.4,429.7 L229.9,431.9 L234.0,432.2 L238.0,429.7 L242.0,427.3 L246.9,424.0 L250.0,420.8 L253.4,416.8 L256.6,413.5 L259.9,411.0 L262.0,413.0 L267.4,407.0 L272.7,394.9 L278.1,366.7 L283.4,342.6 L287.5,315.8 L291.5,289.0 L296.9,254.1 L302.2,230.0 L303.5,230.0 L306.4,208.5 L309.4,186.7 L312.3,169.0 L316.3,157.1 L319.3,149.2 L323.0,142.3 L325.9,141.3 L329.9,142.3 L333.8,145.3 L337.8,147.3 L341.7,150.2 L345.7,154.2 L349.6,157.1 L353.6,160.1 L357.5,163.0 L361.5,165.0 L366.4,165.0 L371.3,162.1 L375.3,159.1 L380.9,155.5 L386.8,148.6 L390.8,139.7 L394.7,128.8 L398.7,119.0 L402.6,110.1 L406.6,102.2 L410.5,96.3 L414.5,92.3 L418.4,90.3 L422.4,89.4 L426.3,90.3 L430.3,92.3 L435.4,95.0 L440.7,96.3 L446.1,99.0 L451.4,101.7 L455.5,100.3 L458.2,103.0 L462.2,109.7 L467.5,120.4 L472.9,131.2 L478.3,144.6 L483.6,158.0 L488.4,162.2 L492.9,175.8 L496.3,184.8 L499.0,195.0 L501.9,192.7 L505.3,189.3 L509.8,187.0 L514.3,188.2 L518.9,189.3 L522.2,187.0 L526.8,183.7 L531.3,180.3 L535.8,174.7 L540.3,167.9 L544.9,167.0 L548.9,167.0 L551.8,166.0 L554.8,162.1 L558.8,154.2 L562.7,147.3 L566.7,143.3 L570.6,142.3 L574.6,143.3 L578.5,145.3 L582.4,147.3 L586.4,148.2 L590.3,146.3 L594.3,143.3 L598.0,141.5 L600.9,143.4 L604.9,148.4 L608.8,153.3 L612.8,158.2 L616.7,162.2 L620.7,165.2 L624.6,168.1 L628.6,173.0 L632.5,180.9 L636.5,192.8 L644.4,220.4 L648.3,234.3 L650.8,239.9 L653.7,247.8 L656.7,255.7 L659.6,263.6 L662.6,272.4 L665.6,279.4 L668.5,287.3 L671.5,297.1 L674.4,306.0 L678.4,312.9 L682.3,316.9 L686.3,319.8 L690.2,321.8 L692.0,321.8 L697.9,320.3 L705.8,316.4 L711.7,310.4 L715.7,302.5 L719.6,290.7 L723.6,272.9 L727.5,255.2 L730.5,241.3 L733.4,225.5 L737.4,207.8 L743.4,181.6 L746.8,163.5 L750.2,147.7 L754.7,134.2 L759.2,124.0 L763.7,117.2 L768.2,112.7 L771.6,110.5 L775.0,113.9 L779.5,124.0 L782.9,130.0 L786.8,143.8 L790.8,155.7 L794.7,165.5 L798.7,174.4 L802.6,183.3 L806.6,193.2 L810.5,203.0 L814.5,208.0 L818.4,205.0 L823.4,203.4 L827.3,198.1 L831.3,192.2 L834.0,187.3 L837.9,181.3 L841.8,177.4 L845.8,177.4 L849.7,180.3 L853.7,185.3 L857.6,191.2 L861.6,195.2 L865.5,198.1 L869.5,201.1 L873.4,205.0 L877.4,210.6 L880.3,211.0 L884.0,207.0 L887.9,203.0 L891.8,200.1 L895.8,201.1 L899.7,202.7 L902.7,203.4 L905.7,200.1 L909.6,197.1 L912.6,195.2 L915.5,195.2 L919.5,195.5 L922.4,196.1 L925.0,197.1" stroke="#0000ff" stroke-width="1" fill="none"/>
<path d="M1.0,323.0 L4.5,335.3 L9.0,346.6 L13.5,354.5 L18.0,367.0 L22.6,376.0 L27.0,382.7 L30.5,383.8 L33.9,381.6 L37.2,380.5 L41.8,381.0 L45.0,382.3 L48.5,383.8 L52.0,382.7 L55.3,385.0 L58.7,389.5 L62.0,394.0 L65.5,400.8 L67.7,409.8 L70.0,413.2 L74.0,417.7 L78.5,418.8 L83.0,421.0 L87.6,425.6 L91.0,429.0 L94.3,425.6 L98.9,423.4 L103.4,420.0 L107.9,416.6 L112.4,412.0 L117.0,405.3 L121.4,399.6 L126.0,395.0 L130.5,393.6 L134.5,393.5 L139.0,399.2 L143.5,402.5 L148.0,401.4 L152.6,402.5 L157.0,399.2 L160.5,397.0 L163.9,392.4 L167.2,382.2 L170.6,371.0 L174.0,369.0 L177.4,370.5 L180.8,367.6 L184.2,365.3 L187.6,368.7 L191.0,377.7 L194.3,389.0 L197.7,402.5 L203.0,408.7 L207.2,413.5 L210.4,422.4 L214.5,426.5 L217.7,429.0 L221.0,431.4 L225.0,434.6 L228.3,437.9 L231.5,439.2 L234.7,436.2 L238.0,429.7 L242.0,424.9 L245.3,421.6 L248.5,417.6 L251.8,411.9 L255.0,406.2 L257.5,401.4 L259.9,396.5 L265.0,396.0 L269.0,396.0 L272.7,392.5 L276.7,374.8 L280.8,342.6 L284.8,305.0 L288.8,264.9 L292.8,235.4 L296.6,208.5 L299.5,184.8 L302.5,165.0 L305.0,149.2 L307.4,144.3 L311.4,141.3 L315.3,137.4 L318.3,134.4 L323.0,137.4 L325.9,143.3 L328.9,148.2 L331.8,151.2 L334.8,150.2 L337.8,151.2 L340.7,152.2 L343.7,153.2 L346.7,155.2 L349.6,160.1 L352.6,164.0 L355.5,167.0 L358.5,164.0 L361.5,161.1 L364.4,158.1 L367.4,157.1 L371.3,154.2 L375.3,151.2 L379.0,148.6 L382.9,136.7 L386.8,122.9 L390.8,115.0 L394.7,105.2 L398.7,97.3 L402.6,89.4 L406.6,84.4 L410.5,78.5 L413.5,76.1 L416.5,77.5 L419.4,81.5 L422.4,87.4 L426.3,92.3 L430.3,99.2 L434.0,107.0 L438.0,109.7 L442.0,108.4 L446.1,105.7 L450.1,101.7 L454.1,93.6 L456.8,90.9 L459.5,95.0 L462.2,104.3 L466.2,117.7 L470.2,136.5 L473.5,148.0 L476.0,155.6 L479.7,168.3 L482.5,182.4 L484.6,192.3 L486.7,197.3 L489.5,198.4 L494.0,197.9 L497.4,193.8 L500.8,189.3 L505.3,182.6 L509.8,181.4 L514.3,183.7 L518.9,183.7 L522.2,181.4 L526.8,179.2 L530.1,178.0 L533.5,176.9 L538.0,171.3 L541.4,164.5 L543.9,153.2 L546.9,152.2 L550.9,152.2 L554.8,150.2 L558.8,146.3 L562.7,142.3 L567.6,138.4 L570.6,140.3 L574.6,142.3 L578.5,143.3 L582.4,144.3 L585.4,145.3 L589.4,147.3 L592.3,150.2 L596.3,150.2 L598.0,149.4 L600.9,147.4 L604.9,148.4 L608.8,151.3 L612.8,155.3 L616.7,159.2 L619.7,167.1 L622.6,176.0 L626.6,184.9 L630.5,192.8 L634.5,202.7 L638.4,216.5 L642.4,230.3 L644.8,241.8 L647.8,251.7 L650.8,263.6 L653.7,275.4 L656.7,285.3 L659.6,295.2 L662.6,303.0 L665.6,308.0 L668.5,310.9 L671.5,312.9 L674.4,313.9 L677.4,318.8 L681.4,320.8 L684.3,322.8 L687.3,326.7 L690.2,327.7 L692.0,326.7 L699.9,320.3 L707.8,312.4 L711.7,304.5 L715.7,288.7 L719.6,272.9 L723.6,255.2 L726.5,237.4 L729.5,219.6 L732.4,201.8 L736.4,181.7 L739.8,159.7 L742.3,145.5 L745.6,134.2 L749.0,125.1 L753.5,117.2 L758.0,112.7 L762.6,109.3 L767.0,108.2 L771.6,109.3 L775.0,113.9 L778.4,121.8 L780.0,127.0 L782.9,137.9 L785.9,147.8 L788.8,161.6 L791.8,175.4 L794.7,191.2 L797.7,205.0 L801.7,214.9 L804.6,218.8 L808.6,219.8 L811.5,212.9 L814.5,206.0 L817.4,198.1 L820.4,191.2 L824.4,183.3 L827.3,178.4 L830.3,174.4 L833.0,170.5 L835.9,168.5 L838.9,170.5 L841.8,174.4 L844.8,178.4 L847.8,183.3 L851.7,191.2 L855.7,199.1 L859.6,206.0 L863.6,211.9 L867.5,216.9 L871.5,219.8 L874.4,219.8 L877.4,214.9 L880.3,208.0 L883.3,201.1 L885.9,198.1 L888.9,193.2 L891.8,190.2 L894.2,190.2 L896.8,194.2 L899.7,197.1 L902.7,197.1 L905.7,195.2 L908.6,195.2 L911.6,198.1 L914.6,202.1 L917.5,206.6 L920.5,208.0 L923.0,206.0 L925.0,203.4" stroke="#ff0000" stroke-width="1" fill="none"/>
<rect x="0" y="24" width="1164" height="1" fill="#000"/>
<rect x="0" y="484" width="1164" height="1" fill="#000"/>
<rect x="0" y="24" width="1" height="461" fill="#000"/>
<rect x="1163" y="24" width="1" height="461" fill="#000"/>
<rect x="0" y="486" width="1164" height="1" fill="#000"/>
<rect x="0" y="570" width="1164" height="1" fill="#000"/>
<rect x="0" y="486" width="1" height="85" fill="#000"/>
<rect x="1163" y="486" width="1" height="85" fill="#000"/>
<rect x="0" y="572" width="1164" height="1" fill="#000"/>
<rect x="0" y="659" width="1164" height="1" fill="#000"/>
<rect x="0" y="572" width="1" height="88" fill="#000"/>
<rect x="1163" y="572" width="1" height="88" fill="#000"/>
<rect x="1" y="51" width="1163" height="2" fill="#ff0000"/>
<rect x="1" y="154" width="1163" height="2" fill="#ff0000"/>
<rect x="0" y="152" width="6" height="6" fill="#ff0000"/>
<rect x="2" y="154" width="2" height="2" fill="#fff"/>
<rect x="1157" y="152" width="6" height="6" fill="#ff0000"/>
<rect x="1159" y="154" width="2" height="2" fill="#fff"/>
<rect x="1" y="233" width="1163" height="2" fill="#00ff00"/>
<rect x="1" y="331" width="1163" height="2" fill="#0000ff"/>
<rect x="0" y="329" width="6" height="6" fill="#0000ff"/>
<rect x="2" y="331" width="2" height="2" fill="#fff"/>
<rect x="1157" y="329" width="6" height="6" fill="#0000ff"/>
<rect x="1159" y="331" width="2" height="2" fill="#fff"/>
<rect x="1" y="429" width="1163" height="2" fill="#0000ff"/>
<rect x="0" y="427" width="6" height="6" fill="#0000ff"/>
<rect x="2" y="429" width="2" height="2" fill="#fff"/>
<rect x="1157" y="427" width="6" height="6" fill="#0000ff"/>
<rect x="1159" y="429" width="2" height="2" fill="#fff"/>
<rect x="1" y="349" width="1" height="17" fill="#32cd32"/>
<rect x="3" y="347" width="1" height="34" fill="#32cd32"/>
<rect x="5" y="356" width="1" height="23" fill="#ff0000"/>
<rect x="7" y="360" width="1" height="12" fill="#ff0000"/>
<rect x="9" y="349" width="1" height="19" fill="#ff0000"/>
<rect x="11" y="340" width="1" height="19" fill="#32cd32"/>
<rect x="13" y="353" width="1" height="13" fill="#32cd32"/>
<rect x="15" y="356" width="1" height="68" fill="#32cd32"/>
<rect x="17" y="398" width="1" height="26" fill="#32cd32"/>
<rect x="19" y="398" width="1" height="24" fill="#ff0000"/>
<rect x="21" y="398" width="1" height="31" fill="#32cd32"/>
<rect x="23" y="401" width="1" height="21" fill="#ff0000"/>
<rect x="25" y="401" width="1" height="23" fill="#32cd32"/>
<rect x="27" y="367" width="1" height="55" fill="#ff0000"/>
<rect x="29" y="344" width="1" height="47" fill="#32cd32"/>
<rect x="31" y="365" width="1" height="23" fill="#ff0000"/>
<rect x="33" y="324" width="1" height="57" fill="#ff0000"/>
<rect x="35" y="325" width="1" height="24" fill="#000000"/>
<rect x="37" y="326" width="1" height="17" fill="#ff0000"/>
<rect x="39" y="331" width="1" height="55" fill="#32cd32"/>
<rect x="41" y="358" width="1" height="30" fill="#32cd32"/>
<rect x="43" y="374" width="1" height="30" fill="#32cd32"/>
<rect x="45" y="392" width="1" height="12" fill="#32cd32"/>
<rect x="47" y="408" width="1" height="14" fill="#32cd32"/>
<rect x="49" y="412" width="1" height="17" fill="#32cd32"/>
<rect x="51" y="383" width="1" height="56" fill="#ff0000"/>
<rect x="53" y="383" width="1" height="32" fill="#ff0000"/>
<rect x="55" y="383" width="1" height="28" fill="#32cd32"/>
<rect x="57" y="390" width="1" height="30" fill="#32cd32"/>
<rect x="59" y="405" width="1" height="13" fill="#ff0000"/>
<rect x="61" y="405" width="1" height="15" fill="#ff0000"/>
<rect x="63" y="378" width="1" height="58" fill="#32cd32"/>
<rect x="65" y="403" width="1" height="33" fill="#32cd32"/>
<rect x="67" y="410" width="1" height="21" fill="#ff0000"/>
<rect x="69" y="412" width="1" height="17" fill="#32cd32"/>
<rect x="71" y="414" width="1" height="19" fill="#32cd32"/>
<rect x="73" y="421" width="1" height="12" fill="#ff0000"/>
<rect x="75" y="419" width="1" height="50" fill="#32cd32"/>
<rect x="77" y="417" width="1" height="41" fill="#ff0000"/>
<rect x="79" y="417" width="1" height="23" fill="#32cd32"/>
<rect x="81" y="412" width="1" height="35" fill="#32cd32"/>
<rect x="83" y="426" width="1" height="25" fill="#ff0000"/>
<rect x="85" y="432" width="1" height="22" fill="#32cd32"/>
<rect x="87" y="435" width="1" height="20" fill="#32cd32"/>
<rect x="89" y="414" width="1" height="37" fill="#ff0000"/>
<rect x="91" y="405" width="1" height="44" fill="#ff0000"/>
<rect x="93" y="398" width="1" height="31" fill="#32cd32"/>
<rect x="95" y="398" width="1" height="24" fill="#32cd32"/>
<rect x="97" y="405" width="1" height="15" fill="#32cd32"/>
<rect x="99" y="390" width="1" height="41" fill="#ff0000"/>
<rect x="101" y="371" width="1" height="44" fill="#ff0000"/>
<rect x="103" y="379" width="1" height="45" fill="#32cd32"/>
<rect x="105" y="401" width="1" height="21" fill="#32cd32"/>
<rect x="107" y="401" width="1" height="23" fill="#ff0000"/>
<rect x="109" y="398" width="1" height="17" fill="#ff0000"/>
<rect x="111" y="387" width="1" height="28" fill="#ff0000"/>
<rect x="113" y="346" width="1" height="65" fill="#ff0000"/>
<rect x="115" y="371" width="1" height="31" fill="#32cd32"/>
<rect x="117" y="383" width="1" height="14" fill="#32cd32"/>
<rect x="119" y="377" width="1" height="18" fill="#32cd32"/>
<rect x="121" y="374" width="1" height="23" fill="#ff0000"/>
<rect x="123" y="366" width="1" height="25" fill="#ff0000"/>
<rect x="125" y="370" width="1" height="25" fill="#32cd32"/>
<rect x="127" y="387" width="1" height="12" fill="#32cd32"/>
<rect x="129" y="392" width="1" height="12" fill="#ff0000"/>
<rect x="131" y="394" width="1" height="13" fill="#32cd32"/>
<rect x="133" y="390" width="1" height="15" fill="#ff0000"/>
<rect x="135" y="384" width="1" height="29" fill="#32cd32"/>
<rect x="137" y="387" width="1" height="30" fill="#32cd32"/>
<rect x="139" y="409" width="1" height="40" fill="#32cd32"/>
<rect x="141" y="414" width="1" height="29" fill="#ff0000"/>
<rect x="143" y="412" width="1" height="12" fill="#ff0000"/>
<rect x="145" y="412" width="1" height="11" fill="#ff0000"/>
<rect x="147" y="358" width="1" height="64" fill="#ff0000"/>
<rect x="149" y="352" width="1" height="54" fill="#32cd32"/>
<rect x="151" y="388" width="1" height="22" fill="#32cd32"/>
<rect x="153" y="400" width="1" height="10" fill="#ff0000"/>
<rect x="155" y="398" width="1" height="12" fill="#ff0000"/>
<rect x="157" y="396" width="1" height="10" fill="#ff0000"/>
<rect x="159" y="370" width="1" height="31" fill="#ff0000"/>
<rect x="161" y="338" width="1" height="61" fill="#ff0000"/>
<rect x="163" y="319" width="1" height="33" fill="#ff0000"/>
<rect x="165" y="319" width="1" height="26" fill="#ff0000"/>
<rect x="167" y="329" width="1" height="9" fill="#ff0000"/>
<rect x="169" y="320" width="1" height="18" fill="#32cd32"/>
<rect x="171" y="319" width="1" height="19" fill="#ff0000"/>
<rect x="173" y="317" width="1" height="87" fill="#32cd32"/>
<rect x="175" y="387" width="1" height="19" fill="#ff0000"/>
<rect x="177" y="387" width="1" height="12" fill="#ff0000"/>
<rect x="179" y="387" width="1" height="10" fill="#ff0000"/>
<rect x="181" y="387" width="1" height="12" fill="#ff0000"/>
<rect x="183" y="376" width="1" height="41" fill="#32cd32"/>
<rect x="185" y="396" width="1" height="21" fill="#32cd32"/>
<rect x="187" y="407" width="1" height="17" fill="#32cd32"/>
<rect x="189" y="409" width="1" height="13" fill="#ff0000"/>
<rect x="191" y="405" width="1" height="14" fill="#ff0000"/>
<rect x="193" y="405" width="1" height="12" fill="#ff0000"/>
<rect x="195" y="394" width="1" height="37" fill="#32cd32"/>
<rect x="197" y="416" width="1" height="26" fill="#32cd32"/>
<rect x="199" y="419" width="1" height="22" fill="#ff0000"/>
<rect x="201" y="419" width="1" height="8" fill="#ff0000"/>
<rect x="203" y="418" width="1" height="11" fill="#32cd32"/>
<rect x="205" y="419" width="1" height="10" fill="#ff0000"/>
<rect x="207" y="422" width="1" height="17" fill="#32cd32"/>
<rect x="209" y="432" width="1" height="41" fill="#32cd32"/>
<rect x="211" y="425" width="1" height="46" fill="#ff0000"/>
<rect x="213" y="424" width="1" height="15" fill="#ff0000"/>
<rect x="215" y="426" width="1" height="14" fill="#ff0000"/>
<rect x="217" y="428" width="1" height="9" fill="#32cd32"/>
<rect x="219" y="417" width="1" height="19" fill="#ff0000"/>
<rect x="221" y="393" width="1" height="57" fill="#32cd32"/>
<rect x="223" y="430" width="1" height="27" fill="#ff0000"/>
<rect x="225" y="435" width="1" height="17" fill="#32cd32"/>
<rect x="227" y="444" width="1" height="16" fill="#32cd32"/>
<rect x="229" y="452" width="1" height="11" fill="#ff0000"/>
<rect x="231" y="423" width="1" height="43" fill="#ff0000"/>
<rect x="233" y="402" width="1" height="40" fill="#ff0000"/>
<rect x="235" y="382" width="1" height="31" fill="#ff0000"/>
<rect x="237" y="387" width="1" height="16" fill="#32cd32"/>
<rect x="239" y="394" width="1" height="14" fill="#ff0000"/>
<rect x="241" y="390" width="1" height="13" fill="#ff0000"/>
<rect x="243" y="382" width="1" height="28" fill="#32cd32"/>
<rect x="245" y="385" width="1" height="17" fill="#ff0000"/>
<rect x="247" y="387" width="1" height="11" fill="#ff0000"/>
<rect x="249" y="380" width="1" height="15" fill="#ff0000"/>
<rect x="251" y="382" width="1" height="11" fill="#ff0000"/>
<rect x="253" y="380" width="1" height="18" fill="#32cd32"/>
<rect x="255" y="387" width="1" height="39" fill="#32cd32"/>
<rect x="257" y="373" width="1" height="29" fill="#ff0000"/>
<rect x="259" y="391" width="1" height="19" fill="#32cd32"/>
<rect x="261" y="395" width="1" height="15" fill="#ff0000"/>
<rect x="263" y="396" width="1" height="12" fill="#ff0000"/>
<rect x="265" y="391" width="1" height="11" fill="#ff0000"/>
<rect x="267" y="394" width="1" height="11" fill="#32cd32"/>
<rect x="269" y="382" width="1" height="20" fill="#ff0000"/>
<rect x="271" y="382" width="1" height="17" fill="#32cd32"/>
<rect x="273" y="284" width="1" height="119" fill="#ff0000"/>
<rect x="275" y="272" width="1" height="19" fill="#32cd32"/>
<rect x="277" y="276" width="1" height="15" fill="#ff0000"/>
<rect x="279" y="201" width="1" height="84" fill="#ff0000"/>
<rect x="281" y="191" width="1" height="30" fill="#ff0000"/>
<rect x="283" y="166" width="1" height="39" fill="#ff0000"/>
<rect x="285" y="153" width="1" height="30" fill="#ff0000"/>
<rect x="287" y="164" width="1" height="11" fill="#32cd32"/>
<rect x="289" y="152" width="1" height="26" fill="#ff0000"/>
<rect x="291" y="145" width="1" height="28" fill="#ff0000"/>
<rect x="293" y="111" width="1" height="45" fill="#ff0000"/>
<rect x="295" y="100" width="1" height="33" fill="#32cd32"/>
<rect x="297" y="115" width="1" height="14" fill="#ff0000"/>
<rect x="299" y="106" width="1" height="23" fill="#32cd32"/>
<rect x="301" y="95" width="1" height="34" fill="#32cd32"/>
<rect x="303" y="94" width="1" height="39" fill="#32cd32"/>
<rect x="305" y="119" width="1" height="51" fill="#32cd32"/>
<rect x="307" y="150" width="1" height="15" fill="#32cd32"/>
<rect x="309" y="152" width="1" height="18" fill="#32cd32"/>
<rect x="311" y="144" width="1" height="26" fill="#ff0000"/>
<rect x="313" y="130" width="1" height="29" fill="#ff0000"/>
<rect x="315" y="123" width="1" height="31" fill="#ff0000"/>
<rect x="317" y="124" width="1" height="19" fill="#32cd32"/>
<rect x="319" y="130" width="1" height="26" fill="#ff0000"/>
<rect x="321" y="132" width="1" height="40" fill="#32cd32"/>
<rect x="323" y="137" width="1" height="35" fill="#ff0000"/>
<rect x="325" y="139" width="1" height="21" fill="#32cd32"/>
<rect x="327" y="143" width="1" height="27" fill="#32cd32"/>
<rect x="329" y="153" width="1" height="43" fill="#32cd32"/>
<rect x="331" y="158" width="1" height="38" fill="#ff0000"/>
<rect x="333" y="149" width="1" height="28" fill="#ff0000"/>
<rect x="335" y="145" width="1" height="23" fill="#ff0000"/>
<rect x="337" y="151" width="1" height="11" fill="#ff0000"/>
<rect x="339" y="139" width="1" height="25" fill="#32cd32"/>
<rect x="341" y="147" width="1" height="23" fill="#32cd32"/>
<rect x="343" y="144" width="1" height="21" fill="#ff0000"/>
<rect x="345" y="151" width="1" height="11" fill="#32cd32"/>
<rect x="347" y="156" width="1" height="21" fill="#32cd32"/>
<rect x="349" y="163" width="1" height="11" fill="#ff0000"/>
<rect x="351" y="161" width="1" height="23" fill="#32cd32"/>
<rect x="353" y="166" width="1" height="44" fill="#32cd32"/>
<rect x="355" y="165" width="1" height="44" fill="#ff0000"/>
<rect x="357" y="160" width="1" height="10" fill="#ff0000"/>
<rect x="359" y="151" width="1" height="29" fill="#ff0000"/>
<rect x="361" y="155" width="1" height="13" fill="#32cd32"/>
<rect x="363" y="150" width="1" height="18" fill="#ff0000"/>
<rect x="365" y="121" width="1" height="41" fill="#ff0000"/>
<rect x="367" y="145" width="1" height="15" fill="#32cd32"/>
<rect x="369" y="141" width="1" height="17" fill="#ff0000"/>
<rect x="371" y="132" width="1" height="18" fill="#ff0000"/>
<rect x="373" y="130" width="1" height="18" fill="#32cd32"/>
<rect x="375" y="124" width="1" height="29" fill="#ff0000"/>
<rect x="377" y="98" width="1" height="45" fill="#ff0000"/>
<rect x="379" y="110" width="1" height="33" fill="#32cd32"/>
<rect x="381" y="121" width="1" height="19" fill="#ff0000"/>
<rect x="383" y="121" width="1" height="13" fill="#32cd32"/>
<rect x="385" y="99" width="1" height="29" fill="#ff0000"/>
<rect x="387" y="99" width="1" height="18" fill="#ff0000"/>
<rect x="389" y="80" width="1" height="31" fill="#ff0000"/>
<rect x="391" y="69" width="1" height="24" fill="#ff0000"/>
<rect x="393" y="64" width="1" height="19" fill="#32cd32"/>
<rect x="395" y="67" width="1" height="12" fill="#ff0000"/>
<rect x="397" y="62" width="1" height="19" fill="#ff0000"/>
<rect x="399" y="51" width="1" height="32" fill="#32cd32"/>
<rect x="401" y="64" width="1" height="30" fill="#32cd32"/>
<rect x="403" y="66" width="1" height="22" fill="#ff0000"/>
<rect x="405" y="60" width="1" height="19" fill="#ff0000"/>
<rect x="407" y="62" width="1" height="14" fill="#ff0000"/>
<rect x="409" y="60" width="1" height="9" fill="#000000"/>
<rect x="411" y="48" width="1" height="21" fill="#ff0000"/>
<rect x="413" y="53" width="1" height="58" fill="#32cd32"/>
<rect x="415" y="78" width="1" height="33" fill="#32cd32"/>
<rect x="417" y="101" width="1" height="39" fill="#32cd32"/>
<rect x="419" y="108" width="1" height="15" fill="#ff0000"/>
<rect x="421" y="107" width="1" height="29" fill="#32cd32"/>
<rect x="423" y="99" width="1" height="35" fill="#32cd32"/>
<rect x="425" y="105" width="1" height="29" fill="#ff0000"/>
<rect x="427" y="109" width="1" height="11" fill="#32cd32"/>
<rect x="429" y="109" width="1" height="13" fill="#ff0000"/>
<rect x="431" y="110" width="1" height="12" fill="#ff0000"/>
<rect x="433" y="102" width="1" height="33" fill="#32cd32"/>
<rect x="435" y="83" width="1" height="64" fill="#ff0000"/>
<rect x="437" y="83" width="1" height="28" fill="#32cd32"/>
<rect x="439" y="80" width="1" height="23" fill="#ff0000"/>
<rect x="441" y="76" width="1" height="24" fill="#32cd32"/>
<rect x="443" y="79" width="1" height="13" fill="#ff0000"/>
<rect x="445" y="83" width="1" height="20" fill="#32cd32"/>
<rect x="447" y="80" width="1" height="15" fill="#32cd32"/>
<rect x="449" y="72" width="1" height="41" fill="#ff0000"/>
<rect x="451" y="56" width="1" height="39" fill="#ff0000"/>
<rect x="453" y="74" width="1" height="17" fill="#ff0000"/>
<rect x="455" y="64" width="1" height="23" fill="#32cd32"/>
<rect x="457" y="64" width="1" height="13" fill="#ff0000"/>
<rect x="459" y="72" width="1" height="102" fill="#32cd32"/>
<rect x="461" y="163" width="1" height="39" fill="#32cd32"/>
<rect x="463" y="192" width="1" height="30" fill="#ff0000"/>
<rect x="465" y="182" width="1" height="23" fill="#32cd32"/>
<rect x="467" y="186" width="1" height="16" fill="#32cd32"/>
<rect x="469" y="188" width="1" height="19" fill="#ff0000"/>
<rect x="471" y="169" width="1" height="41" fill="#32cd32"/>
<rect x="473" y="188" width="1" height="14" fill="#ff0000"/>
<rect x="475" y="185" width="1" height="24" fill="#ff0000"/>
<rect x="477" y="193" width="1" height="20" fill="#32cd32"/>
<rect x="479" y="196" width="1" height="11" fill="#32cd32"/>
<rect x="481" y="188" width="1" height="31" fill="#ff0000"/>
<rect x="483" y="190" width="1" height="33" fill="#ff0000"/>
<rect x="485" y="174" width="1" height="33" fill="#32cd32"/>
<rect x="487" y="186" width="1" height="33" fill="#ff0000"/>
<rect x="489" y="189" width="1" height="17" fill="#32cd32"/>
<rect x="491" y="196" width="1" height="10" fill="#ff0000"/>
<rect x="493" y="194" width="1" height="15" fill="#ff0000"/>
<rect x="495" y="180" width="1" height="17" fill="#ff0000"/>
<rect x="497" y="137" width="1" height="57" fill="#ff0000"/>
<rect x="499" y="167" width="1" height="26" fill="#32cd32"/>
<rect x="501" y="149" width="1" height="37" fill="#ff0000"/>
<rect x="503" y="149" width="1" height="21" fill="#32cd32"/>
<rect x="505" y="153" width="1" height="12" fill="#32cd32"/>
<rect x="507" y="140" width="1" height="35" fill="#ff0000"/>
<rect x="509" y="140" width="1" height="39" fill="#32cd32"/>
<rect x="511" y="177" width="1" height="20" fill="#32cd32"/>
<rect x="513" y="194" width="1" height="17" fill="#32cd32"/>
<rect x="515" y="198" width="1" height="16" fill="#32cd32"/>
<rect x="517" y="193" width="1" height="23" fill="#32cd32"/>
<rect x="519" y="192" width="1" height="48" fill="#32cd32"/>
<rect x="521" y="162" width="1" height="73" fill="#ff0000"/>
<rect x="523" y="169" width="1" height="8" fill="#ff0000"/>
<rect x="525" y="148" width="1" height="20" fill="#32cd32"/>
<rect x="527" y="151" width="1" height="24" fill="#ff0000"/>
<rect x="529" y="151" width="1" height="14" fill="#32cd32"/>
<rect x="531" y="134" width="1" height="25" fill="#ff0000"/>
<rect x="533" y="134" width="1" height="20" fill="#ff0000"/>
<rect x="535" y="138" width="1" height="16" fill="#ff0000"/>
<rect x="537" y="141" width="1" height="16" fill="#ff0000"/>
<rect x="539" y="141" width="1" height="16" fill="#ff0000"/>
<rect x="541" y="132" width="1" height="20" fill="#ff0000"/>
<rect x="543" y="112" width="1" height="36" fill="#ff0000"/>
<rect x="545" y="121" width="1" height="65" fill="#32cd32"/>
<rect x="547" y="151" width="1" height="19" fill="#ff0000"/>
<rect x="549" y="159" width="1" height="15" fill="#ff0000"/>
<rect x="551" y="150" width="1" height="29" fill="#ff0000"/>
<rect x="553" y="144" width="1" height="30" fill="#ff0000"/>
<rect x="555" y="145" width="1" height="29" fill="#32cd32"/>
<rect x="557" y="108" width="1" height="60" fill="#ff0000"/>
<rect x="559" y="99" width="1" height="28" fill="#32cd32"/>
<rect x="561" y="111" width="1" height="18" fill="#32cd32"/>
<rect x="563" y="117" width="1" height="12" fill="#ff0000"/>
<rect x="565" y="115" width="1" height="14" fill="#ff0000"/>
<rect x="567" y="101" width="1" height="30" fill="#ff0000"/>
<rect x="569" y="112" width="1" height="38" fill="#32cd32"/>
<rect x="571" y="140" width="1" height="25" fill="#32cd32"/>
<rect x="573" y="149" width="1" height="29" fill="#32cd32"/>
<rect x="575" y="161" width="1" height="11" fill="#ff0000"/>
<rect x="577" y="163" width="1" height="11" fill="#ff0000"/>
<rect x="579" y="149" width="1" height="34" fill="#ff0000"/>
<rect x="581" y="140" width="1" height="56" fill="#32cd32"/>
<rect x="583" y="144" width="1" height="43" fill="#ff0000"/>
<rect x="585" y="136" width="1" height="20" fill="#32cd32"/>
<rect x="587" y="140" width="1" height="16" fill="#ff0000"/>
<rect x="589" y="133" width="1" height="17" fill="#ff0000"/>
<rect x="591" y="123" width="1" height="27" fill="#ff0000"/>
<rect x="593" y="112" width="1" height="28" fill="#32cd32"/>
<rect x="595" y="120" width="1" height="26" fill="#ff0000"/>
<rect x="597" y="124" width="1" height="24" fill="#32cd32"/>
<rect x="599" y="136" width="1" height="14" fill="#32cd32"/>
<rect x="601" y="145" width="1" height="15" fill="#32cd32"/>
<rect x="603" y="147" width="1" height="35" fill="#32cd32"/>
<rect x="605" y="145" width="1" height="47" fill="#32cd32"/>
<rect x="607" y="184" width="1" height="13" fill="#32cd32"/>
<rect x="609" y="186" width="1" height="17" fill="#32cd32"/>
<rect x="611" y="187" width="1" height="17" fill="#32cd32"/>
<rect x="613" y="184" width="1" height="10" fill="#ff0000"/>
<rect x="615" y="156" width="1" height="35" fill="#ff0000"/>
<rect x="617" y="155" width="1" height="64" fill="#32cd32"/>
<rect x="619" y="190" width="1" height="32" fill="#32cd32"/>
<rect x="621" y="207" width="1" height="19" fill="#ff0000"/>
<rect x="623" y="196" width="1" height="21" fill="#ff0000"/>
<rect x="625" y="197" width="1" height="18" fill="#ff0000"/>
<rect x="627" y="190" width="1" height="32" fill="#32cd32"/>
<rect x="629" y="179" width="1" height="23" fill="#ff0000"/>
<rect x="631" y="179" width="1" height="40" fill="#32cd32"/>
<rect x="633" y="180" width="1" height="81" fill="#32cd32"/>
<rect x="635" y="256" width="1" height="13" fill="#32cd32"/>
<rect x="637" y="263" width="1" height="16" fill="#32cd32"/>
<rect x="639" y="266" width="1" height="24" fill="#32cd32"/>
<rect x="641" y="270" width="1" height="28" fill="#32cd32"/>
<rect x="643" y="290" width="1" height="27" fill="#32cd32"/>
<rect x="645" y="298" width="1" height="20" fill="#32cd32"/>
<rect x="647" y="299" width="1" height="19" fill="#32cd32"/>
<rect x="649" y="292" width="1" height="14" fill="#ff0000"/>
<rect x="651" y="290" width="1" height="45" fill="#32cd32"/>
<rect x="653" y="295" width="1" height="29" fill="#ff0000"/>
<rect x="655" y="291" width="1" height="26" fill="#ff0000"/>
<rect x="657" y="303" width="1" height="11" fill="#ff0000"/>
<rect x="659" y="302" width="1" height="14" fill="#32cd32"/>
<rect x="661" y="303" width="1" height="15" fill="#32cd32"/>
<rect x="663" y="306" width="1" height="22" fill="#32cd32"/>
<rect x="665" y="300" width="1" height="34" fill="#32cd32"/>
<rect x="667" y="313" width="1" height="19" fill="#ff0000"/>
<rect x="669" y="313" width="1" height="11" fill="#32cd32"/>
<rect x="671" y="312" width="1" height="13" fill="#ff0000"/>
<rect x="673" y="312" width="1" height="10" fill="#ff0000"/>
<rect x="675" y="312" width="1" height="28" fill="#32cd32"/>
<rect x="677" y="327" width="1" height="28" fill="#ff0000"/>
<rect x="679" y="323" width="1" height="20" fill="#ff0000"/>
<rect x="681" y="324" width="1" height="14" fill="#32cd32"/>
<rect x="683" y="330" width="1" height="10" fill="#32cd32"/>
<rect x="685" y="323" width="1" height="20" fill="#ff0000"/>
<rect x="687" y="308" width="1" height="35" fill="#ff0000"/>
<rect x="689" y="321" width="1" height="40" fill="#32cd32"/>
<rect x="691" y="289" width="1" height="64" fill="#ff0000"/>
<rect x="693" y="300" width="1" height="13" fill="#ff0000"/>
<rect x="695" y="293" width="1" height="16" fill="#ff0000"/>
<rect x="697" y="289" width="1" height="9" fill="#000000"/>
<rect x="699" y="287" width="1" height="32" fill="#32cd32"/>
<rect x="701" y="293" width="1" height="26" fill="#32cd32"/>
<rect x="703" y="301" width="1" height="8" fill="#32cd32"/>
<rect x="705" y="297" width="1" height="10" fill="#32cd32"/>
<rect x="707" y="289" width="1" height="16" fill="#ff0000"/>
<rect x="709" y="281" width="1" height="21" fill="#ff0000"/>
<rect x="711" y="279" width="1" height="19" fill="#ff0000"/>
<rect x="713" y="230" width="1" height="79" fill="#ff0000"/>
<rect x="715" y="200" width="1" height="35" fill="#ff0000"/>
<rect x="717" y="192" width="1" height="19" fill="#ff0000"/>
<rect x="719" y="183" width="1" height="20" fill="#32cd32"/>
<rect x="721" y="190" width="1" height="11" fill="#ff0000"/>
<rect x="723" y="170" width="1" height="31" fill="#ff0000"/>
<rect x="725" y="145" width="1" height="46" fill="#ff0000"/>
<rect x="727" y="144" width="1" height="13" fill="#32cd32"/>
<rect x="729" y="133" width="1" height="19" fill="#ff0000"/>
<rect x="731" y="126" width="1" height="30" fill="#ff0000"/>
<rect x="733" y="133" width="1" height="14" fill="#32cd32"/>
<rect x="735" y="116" width="1" height="23" fill="#ff0000"/>
<rect x="737" y="97" width="1" height="26" fill="#ff0000"/>
<rect x="739" y="99" width="1" height="16" fill="#32cd32"/>
<rect x="741" y="97" width="1" height="10" fill="#ff0000"/>
<rect x="743" y="98" width="1" height="26" fill="#32cd32"/>
<rect x="745" y="100" width="1" height="13" fill="#ff0000"/>
<rect x="747" y="87" width="1" height="19" fill="#ff0000"/>
<rect x="749" y="91" width="1" height="46" fill="#32cd32"/>
<rect x="751" y="113" width="1" height="16" fill="#ff0000"/>
<rect x="753" y="113" width="1" height="20" fill="#ff0000"/>
<rect x="755" y="114" width="1" height="12" fill="#32cd32"/>
<rect x="757" y="113" width="1" height="12" fill="#32cd32"/>
<rect x="759" y="110" width="1" height="14" fill="#ff0000"/>
<rect x="761" y="95" width="1" height="15" fill="#32cd32"/>
<rect x="763" y="92" width="1" height="16" fill="#ff0000"/>
<rect x="765" y="96" width="1" height="11" fill="#32cd32"/>
<rect x="767" y="96" width="1" height="10" fill="#32cd32"/>
<rect x="769" y="98" width="1" height="8" fill="#ff0000"/>
<rect x="771" y="91" width="1" height="19" fill="#32cd32"/>
<rect x="773" y="109" width="1" height="38" fill="#32cd32"/>
<rect x="775" y="148" width="1" height="41" fill="#32cd32"/>
<rect x="777" y="185" width="1" height="15" fill="#32cd32"/>
<rect x="779" y="192" width="1" height="10" fill="#32cd32"/>
<rect x="781" y="183" width="1" height="13" fill="#ff0000"/>
<rect x="783" y="183" width="1" height="45" fill="#32cd32"/>
<rect x="785" y="206" width="1" height="43" fill="#32cd32"/>
<rect x="787" y="228" width="1" height="22" fill="#ff0000"/>
<rect x="789" y="229" width="1" height="9" fill="#32cd32"/>
<rect x="791" y="219" width="1" height="17" fill="#32cd32"/>
<rect x="793" y="221" width="1" height="15" fill="#ff0000"/>
<rect x="795" y="221" width="1" height="40" fill="#32cd32"/>
<rect x="797" y="213" width="1" height="48" fill="#ff0000"/>
<rect x="799" y="197" width="1" height="43" fill="#ff0000"/>
<rect x="801" y="197" width="1" height="27" fill="#32cd32"/>
<rect x="803" y="196" width="1" height="51" fill="#32cd32"/>
<rect x="805" y="205" width="1" height="13" fill="#ff0000"/>
<rect x="807" y="205" width="1" height="24" fill="#32cd32"/>
<rect x="809" y="181" width="1" height="33" fill="#ff0000"/>
<rect x="811" y="143" width="1" height="47" fill="#ff0000"/>
<rect x="813" y="150" width="1" height="50" fill="#32cd32"/>
<rect x="815" y="146" width="1" height="36" fill="#ff0000"/>
<rect x="817" y="130" width="1" height="21" fill="#ff0000"/>
<rect x="819" y="144" width="1" height="62" fill="#32cd32"/>
<rect x="821" y="161" width="1" height="19" fill="#ff0000"/>
<rect x="823" y="154" width="1" height="24" fill="#ff0000"/>
<rect x="825" y="150" width="1" height="34" fill="#32cd32"/>
<rect x="827" y="150" width="1" height="26" fill="#ff0000"/>
<rect x="829" y="164" width="1" height="26" fill="#32cd32"/>
<rect x="831" y="156" width="1" height="34" fill="#ff0000"/>
<rect x="833" y="155" width="1" height="30" fill="#32cd32"/>
<rect x="835" y="160" width="1" height="17" fill="#ff0000"/>
<rect x="837" y="163" width="1" height="17" fill="#32cd32"/>
<rect x="839" y="166" width="1" height="18" fill="#32cd32"/>
<rect x="841" y="170" width="1" height="20" fill="#ff0000"/>
<rect x="843" y="165" width="1" height="49" fill="#32cd32"/>
<rect x="845" y="168" width="1" height="61" fill="#32cd32"/>
<rect x="847" y="205" width="1" height="19" fill="#32cd32"/>
<rect x="849" y="214" width="1" height="11" fill="#ff0000"/>
<rect x="851" y="218" width="1" height="19" fill="#32cd32"/>
<rect x="853" y="218" width="1" height="15" fill="#ff0000"/>
<rect x="855" y="216" width="1" height="25" fill="#32cd32"/>
<rect x="857" y="221" width="1" height="28" fill="#32cd32"/>
<rect x="859" y="220" width="1" height="27" fill="#ff0000"/>
<rect x="861" y="212" width="1" height="24" fill="#32cd32"/>
<rect x="863" y="195" width="1" height="50" fill="#ff0000"/>
<rect x="865" y="198" width="1" height="28" fill="#32cd32"/>
<rect x="867" y="197" width="1" height="35" fill="#32cd32"/>
<rect x="869" y="190" width="1" height="34" fill="#ff0000"/>
<rect x="871" y="201" width="1" height="21" fill="#32cd32"/>
<rect x="873" y="201" width="1" height="23" fill="#32cd32"/>
<rect x="875" y="203" width="1" height="15" fill="#32cd32"/>
<rect x="877" y="202" width="1" height="17" fill="#ff0000"/>
<rect x="879" y="166" width="1" height="46" fill="#ff0000"/>
<rect x="881" y="148" width="1" height="49" fill="#ff0000"/>
<rect x="883" y="149" width="1" height="27" fill="#32cd32"/>
<rect x="885" y="150" width="1" height="23" fill="#ff0000"/>
<rect x="887" y="160" width="1" height="18" fill="#32cd32"/>
<rect x="889" y="166" width="1" height="20" fill="#32cd32"/>
<rect x="891" y="158" width="1" height="34" fill="#ff0000"/>
<rect x="893" y="139" width="1" height="51" fill="#32cd32"/>
<rect x="895" y="166" width="1" height="74" fill="#32cd32"/>
<rect x="897" y="234" width="1" height="21" fill="#32cd32"/>
<rect x="899" y="241" width="1" height="19" fill="#32cd32"/>
<rect x="901" y="232" width="1" height="24" fill="#ff0000"/>
<rect x="903" y="189" width="1" height="56" fill="#ff0000"/>
<rect x="905" y="158" width="1" height="40" fill="#ff0000"/>
<rect x="907" y="170" width="1" height="20" fill="#32cd32"/>
<rect x="909" y="172" width="1" height="12" fill="#32cd32"/>
<rect x="911" y="170" width="1" height="15" fill="#32cd32"/>
<rect x="913" y="180" width="1" height="22" fill="#32cd32"/>
<rect x="915" y="188" width="1" height="30" fill="#32cd32"/>
<rect x="917" y="197" width="1" height="48" fill="#32cd32"/>
<rect x="919" y="172" width="1" height="70" fill="#ff0000"/>
<rect x="921" y="183" width="1" height="15" fill="#32cd32"/>
<rect x="923" y="189" width="1" height="17" fill="#32cd32"/>
<rect x="925" y="196" width="1" height="4" fill="#32cd32"/>
<path d="M1.0,543.2 L5.0,546.0 L8.3,547.8 L12.4,549.0 L16.6,549.9 L20.7,552.0 L24.9,553.2 L29.0,554.0 L33.2,554.0 L37.3,551.1 L41.5,549.0 L44.4,546.6 L52.3,546.6 L54.8,548.2 L58.0,549.0 L63.0,550.3 L80.5,550.7 L91.3,551.4 L93.8,549.9 L98.0,548.6 L100.3,546.9 L107.0,543.6 L116.2,539.6 L124.2,537.6 L137.5,537.3 L144.1,539.6 L152.1,541.6 L158.7,541.3 L169.4,536.2 L174.7,532.3 L182.6,532.3 L192.0,539.6 L201.2,543.6 L207.9,546.9 L213.2,549.8 L233.1,549.8 L241.1,545.5 L249.0,540.2 L254.0,537.1 L258.0,536.2 L270.6,536.2 L276.6,533.8 L280.5,531.2 L284.5,523.2 L289.8,511.2 L295.2,502.0 L303.1,494.2 L308.4,494.6 L313.7,498.6 L321.7,507.2 L329.7,514.6 L336.3,522.5 L343.0,527.2 L348.3,530.5 L353.6,533.8 L360.2,536.5 L368.2,538.2 L377.5,535.8 L382.8,535.1 L389.4,532.5 L398.7,528.5 L405.4,525.8 L416.3,525.4 L421.0,529.0 L427.6,533.6 L436.9,540.2 L444.8,540.2 L454.1,537.6 L460.8,537.8 L467.4,544.2 L474.0,553.5 L479.4,556.8 L484.7,558.2 L491.3,557.9 L498.0,555.5 L505.9,550.9 L511.2,546.9 L517.9,545.8 L524.5,546.6 L531.2,543.6 L537.8,540.2 L544.4,536.9 L551.1,536.5 L557.7,536.2 L560.0,536.2 L568.0,534.7 L576.0,534.7 L581.2,537.6 L587.9,540.2 L591.9,540.2 L598.5,539.2 L607.8,539.3 L613.1,542.2 L621.1,546.2 L627.7,549.5 L632.4,549.8 L642.3,554.8 L649.0,560.8 L655.6,564.1 L660.9,565.2 L666.2,564.4 L672.9,561.7 L682.2,559.5 L692.8,556.2 L700.8,551.5 L708.7,545.5 L714.0,541.6 L721.6,534.8 L728.3,526.9 L734.9,518.9 L741.6,511.6 L748.2,509.3 L754.8,510.9 L762.8,515.6 L772.1,520.2 L778.7,526.9 L784.1,533.5 L789.4,542.8 L794.7,549.4 L801.3,554.1 L808.0,553.4 L815.9,549.4 L823.9,542.8 L831.9,538.8 L842.5,538.6 L847.8,539.5 L852.0,541.4 L856.0,543.4 L860.9,546.9 L865.9,548.4 L873.9,548.4 L877.8,546.9 L884.8,543.4 L889.8,540.9 L892.8,538.4 L899.8,538.4 L904.7,541.1 L908.7,542.4 L916.7,542.4 L921.7,541.4 L924.7,540.4" stroke="#ff0000" stroke-width="1" fill="none"/>
<rect x="2" y="599" width="3" height="1" fill="#b4b4b4"/>
<rect x="8" y="599" width="3" height="1" fill="#b4b4b4"/>
<rect x="14" y="599" width="3" height="1" fill="#b4b4b4"/>
<rect x="20" y="599" width="3" height="1" fill="#b4b4b4"/>
<rect x="26" y="599" width="3" height="1" fill="#b4b4b4"/>
<rect x="32" y="599" width="3" height="1" fill="#b4b4b4"/>
<rect x="38" y="599" width="3" height="1" fill="#b4b4b4"/>
<rect x="44" y="599" width="3" height="1" fill="#b4b4b4"/>
<rect x="50" y="599" width="3" height="1" fill="#b4b4b4"/>
<rect x="56" y="599" width="3" height="1" fill="#b4b4b4"/>
<rect x="62" y="599" width="3" height="1" fill="#b4b4b4"/>
<rect x="68" y="599" width="3" height="1" fill="#b4b4b4"/>
<rect x="74" y="599" width="3" height="1" fill="#b4b4b4"/>
<rect x="80" y="599" width="3" height="1" fill="#b4b4b4"/>
<rect x="86" y="599" width="3" height="1" fill="#b4b4b4"/>
<rect x="92" y="599" width="3" height="1" fill="#b4b4b4"/>
<rect x="98" y="599" width="3" height="1" fill="#b4b4b4"/>
<rect x="104" y="599" width="3" height="1" fill="#b4b4b4"/>
<rect x="110" y="599" width="3" height="1" fill="#b4b4b4"/>
<rect x="116" y="599" width="3" height="1" fill="#b4b4b4"/>
<rect x="122" y="599" width="3" height="1" fill="#b4b4b4"/>
<rect x="128" y="599" width="3" height="1" fill="#b4b4b4"/>
<rect x="134" y="599" width="3" height="1" fill="#b4b4b4"/>
<rect x="140" y="599" width="3" height="1" fill="#b4b4b4"/>
<rect x="146" y="599" width="3" height="1" fill="#b4b4b4"/>
<rect x="152" y="599" width="3" height="1" fill="#b4b4b4"/>
<rect x="158" y="599" width="3" height="1" fill="#b4b4b4"/>
<rect x="164" y="599" width="3" height="1" fill="#b4b4b4"/>
<rect x="170" y="599" width="3" height="1" fill="#b4b4b4"/>
<rect x="176" y="599" width="3" height="1" fill="#b4b4b4"/>
<rect x="182" y="599" width="3" height="1" fill="#b4b4b4"/>
<rect x="188" y="599" width="3" height="1" fill="#b4b4b4"/>
<rect x="194" y="599" width="3" height="1" fill="#b4b4b4"/>
<rect x="200" y="599" width="3" height="1" fill="#b4b4b4"/>
<rect x="206" y="599" width="3" height="1" fill="#b4b4b4"/>
<rect x="212" y="599" width="3" height="1" fill="#b4b4b4"/>
<rect x="218" y="599" width="3" height="1" fill="#b4b4b4"/>
<rect x="224" y="599" width="3" height="1" fill="#b4b4b4"/>
<rect x="230" y="599" width="3" height="1" fill="#b4b4b4"/>
<rect x="236" y="599" width="3" height="1" fill="#b4b4b4"/>
<rect x="242" y="599" width="3" height="1" fill="#b4b4b4"/>
<rect x="248" y="599" width="3" height="1" fill="#b4b4b4"/>
<rect x="254" y="599" width="3" height="1" fill="#b4b4b4"/>
<rect x="260" y="599" width="3" height="1" fill="#b4b4b4"/>
<rect x="266" y="599" width="3" height="1" fill="#b4b4b4"/>
<rect x="272" y="599" width="3" height="1" fill="#b4b4b4"/>
<rect x="278" y="599" width="3" height="1" fill="#b4b4b4"/>
<rect x="284" y="599" width="3" height="1" fill="#b4b4b4"/>
<rect x="290" y="599" width="3" height="1" fill="#b4b4b4"/>
<rect x="296" y="599" width="3" height="1" fill="#b4b4b4"/>
<rect x="302" y="599" width="3" height="1" fill="#b4b4b4"/>
<rect x="308" y="599" width="3" height="1" fill="#b4b4b4"/>
<rect x="314" y="599" width="3" height="1" fill="#b4b4b4"/>
<rect x="320" y="599" width="3" height="1" fill="#b4b4b4"/>
<rect x="326" y="599" width="3" height="1" fill="#b4b4b4"/>
<rect x="332" y="599" width="3" height="1" fill="#b4b4b4"/>
<rect x="338" y="599" width="3" height="1" fill="#b4b4b4"/>
<rect x="344" y="599" width="3" height="1" fill="#b4b4b4"/>
<rect x="350" y="599" width="3" height="1" fill="#b4b4b4"/>
<rect x="356" y="599" width="3" height="1" fill="#b4b4b4"/>
<rect x="362" y="599" width="3" height="1" fill="#b4b4b4"/>
<rect x="368" y="599" width="3" height="1" fill="#b4b4b4"/>
<rect x="374" y="599" width="3" height="1" fill="#b4b4b4"/>
<rect x="380" y="599" width="3" height="1" fill="#b4b4b4"/>
<rect x="386" y="599" width="3" height="1" fill="#b4b4b4"/>
<rect x="392" y="599" width="3" height="1" fill="#b4b4b4"/>
<rect x="398" y="599" width="3" height="1" fill="#b4b4b4"/>
<rect x="404" y="599" width="3" height="1" fill="#b4b4b4"/>
<rect x="410" y="599" width="3" height="1" fill="#b4b4b4"/>
<rect x="416" y="599" width="3" height="1" fill="#b4b4b4"/>
<rect x="422" y="599" width="3" height="1" fill="#b4b4b4"/>
<rect x="428" y="599" width="3" height="1" fill="#b4b4b4"/>
<rect x="434" y="599" width="3" height="1" fill="#b4b4b4"/>
<rect x="440" y="599" width="3" height="1" fill="#b4b4b4"/>
<rect x="446" y="599" width="3" height="1" fill="#b4b4b4"/>
<rect x="452" y="599" width="3" height="1" fill="#b4b4b4"/>
<rect x="458" y="599" width="3" height="1" fill="#b4b4b4"/>
<rect x="464" y="599" width="3" height="1" fill="#b4b4b4"/>
<rect x="470" y="599" width="3" height="1" fill="#b4b4b4"/>
<rect x="476" y="599" width="3" height="1" fill="#b4b4b4"/>
<rect x="482" y="599" width="3" height="1" fill="#b4b4b4"/>
<rect x="488" y="599" width="3" height="1" fill="#b4b4b4"/>
<rect x="494" y="599" width="3" height="1" fill="#b4b4b4"/>
<rect x="500" y="599" width="3" height="1" fill="#b4b4b4"/>
<rect x="506" y="599" width="3" height="1" fill="#b4b4b4"/>
<rect x="512" y="599" width="3" height="1" fill="#b4b4b4"/>
<rect x="518" y="599" width="3" height="1" fill="#b4b4b4"/>
<rect x="524" y="599" width="3" height="1" fill="#b4b4b4"/>
<rect x="530" y="599" width="3" height="1" fill="#b4b4b4"/>
<rect x="536" y="599" width="3" height="1" fill="#b4b4b4"/>
<rect x="542" y="599" width="3" height="1" fill="#b4b4b4"/>
<rect x="548" y="599" width="3" height="1" fill="#b4b4b4"/>
<rect x="554" y="599" width="3" height="1" fill="#b4b4b4"/>
<rect x="560" y="599" width="3" height="1" fill="#b4b4b4"/>
<rect x="566" y="599" width="3" height="1" fill="#b4b4b4"/>
<rect x="572" y="599" width="3" height="1" fill="#b4b4b4"/>
<rect x="578" y="599" width="3" height="1" fill="#b4b4b4"/>
<rect x="584" y="599" width="3" height="1" fill="#b4b4b4"/>
<rect x="590" y="599" width="3" height="1" fill="#b4b4b4"/>
<rect x="596" y="599" width="3" height="1" fill="#b4b4b4"/>
<rect x="602" y="599" width="3" height="1" fill="#b4b4b4"/>
<rect x="608" y="599" width="3" height="1" fill="#b4b4b4"/>
<rect x="614" y="599" width="3" height="1" fill="#b4b4b4"/>
<rect x="620" y="599" width="3" height="1" fill="#b4b4b4"/>
<rect x="626" y="599" width="3" height="1" fill="#b4b4b4"/>
<rect x="632" y="599" width="3" height="1" fill="#b4b4b4"/>
<rect x="638" y="599" width="3" height="1" fill="#b4b4b4"/>
<rect x="644" y="599" width="3" height="1" fill="#b4b4b4"/>
<rect x="650" y="599" width="3" height="1" fill="#b4b4b4"/>
<rect x="656" y="599" width="3" height="1" fill="#b4b4b4"/>
<rect x="662" y="599" width="3" height="1" fill="#b4b4b4"/>
<rect x="668" y="599" width="3" height="1" fill="#b4b4b4"/>
<rect x="674" y="599" width="3" height="1" fill="#b4b4b4"/>
<rect x="680" y="599" width="3" height="1" fill="#b4b4b4"/>
<rect x="686" y="599" width="3" height="1" fill="#b4b4b4"/>
<rect x="692" y="599" width="3" height="1" fill="#b4b4b4"/>
<rect x="698" y="599" width="3" height="1" fill="#b4b4b4"/>
<rect x="704" y="599" width="3" height="1" fill="#b4b4b4"/>
<rect x="710" y="599" width="3" height="1" fill="#b4b4b4"/>
<rect x="716" y="599" width="3" height="1" fill="#b4b4b4"/>
<rect x="722" y="599" width="3" height="1" fill="#b4b4b4"/>
<rect x="728" y="599" width="3" height="1" fill="#b4b4b4"/>
<rect x="734" y="599" width="3" height="1" fill="#b4b4b4"/>
<rect x="740" y="599" width="3" height="1" fill="#b4b4b4"/>
<rect x="746" y="599" width="3" height="1" fill="#b4b4b4"/>
<rect x="752" y="599" width="3" height="1" fill="#b4b4b4"/>
<rect x="758" y="599" width="3" height="1" fill="#b4b4b4"/>
<rect x="764" y="599" width="3" height="1" fill="#b4b4b4"/>
<rect x="770" y="599" width="3" height="1" fill="#b4b4b4"/>
<rect x="776" y="599" width="3" height="1" fill="#b4b4b4"/>
<rect x="782" y="599" width="3" height="1" fill="#b4b4b4"/>
<rect x="788" y="599" width="3" height="1" fill="#b4b4b4"/>
<rect x="794" y="599" width="3" height="1" fill="#b4b4b4"/>
<rect x="800" y="599" width="3" height="1" fill="#b4b4b4"/>
<rect x="806" y="599" width="3" height="1" fill="#b4b4b4"/>
<rect x="812" y="599" width="3" height="1" fill="#b4b4b4"/>
<rect x="818" y="599" width="3" height="1" fill="#b4b4b4"/>
<rect x="824" y="599" width="3" height="1" fill="#b4b4b4"/>
<rect x="830" y="599" width="3" height="1" fill="#b4b4b4"/>
<rect x="836" y="599" width="3" height="1" fill="#b4b4b4"/>
<rect x="842" y="599" width="3" height="1" fill="#b4b4b4"/>
<rect x="848" y="599" width="3" height="1" fill="#b4b4b4"/>
<rect x="854" y="599" width="3" height="1" fill="#b4b4b4"/>
<rect x="860" y="599" width="3" height="1" fill="#b4b4b4"/>
<rect x="866" y="599" width="3" height="1" fill="#b4b4b4"/>
<rect x="872" y="599" width="3" height="1" fill="#b4b4b4"/>
<rect x="878" y="599" width="3" height="1" fill="#b4b4b4"/>
<rect x="884" y="599" width="3" height="1" fill="#b4b4b4"/>
<rect x="890" y="599" width="3" height="1" fill="#b4b4b4"/>
<rect x="896" y="599" width="3" height="1" fill="#b4b4b4"/>
<rect x="902" y="599" width="3" height="1" fill="#b4b4b4"/>
<rect x="908" y="599" width="3" height="1" fill="#b4b4b4"/>
<rect x="914" y="599" width="3" height="1" fill="#b4b4b4"/>
<rect x="920" y="599" width="3" height="1" fill="#b4b4b4"/>
<rect x="926" y="599" width="3" height="1" fill="#b4b4b4"/>
<rect x="932" y="599" width="3" height="1" fill="#b4b4b4"/>
<rect x="938" y="599" width="3" height="1" fill="#b4b4b4"/>
<rect x="944" y="599" width="3" height="1" fill="#b4b4b4"/>
<rect x="950" y="599" width="3" height="1" fill="#b4b4b4"/>
<rect x="956" y="599" width="3" height="1" fill="#b4b4b4"/>
<rect x="962" y="599" width="3" height="1" fill="#b4b4b4"/>
<rect x="968" y="599" width="3" height="1" fill="#b4b4b4"/>
<rect x="974" y="599" width="3" height="1" fill="#b4b4b4"/>
<rect x="980" y="599" width="3" height="1" fill="#b4b4b4"/>
<rect x="986" y="599" width="3" height="1" fill="#b4b4b4"/>
<rect x="992" y="599" width="3" height="1" fill="#b4b4b4"/>
<rect x="998" y="599" width="3" height="1" fill="#b4b4b4"/>
<rect x="1004" y="599" width="3" height="1" fill="#b4b4b4"/>
<rect x="1010" y="599" width="3" height="1" fill="#b4b4b4"/>
<rect x="1016" y="599" width="3" height="1" fill="#b4b4b4"/>
<rect x="1022" y="599" width="3" height="1" fill="#b4b4b4"/>
<rect x="1028" y="599" width="3" height="1" fill="#b4b4b4"/>
<rect x="1034" y="599" width="3" height="1" fill="#b4b4b4"/>
<rect x="1040" y="599" width="3" height="1" fill="#b4b4b4"/>
<rect x="1046" y="599" width="3" height="1" fill="#b4b4b4"/>
<rect x="1052" y="599" width="3" height="1" fill="#b4b4b4"/>
<rect x="1058" y="599" width="3" height="1" fill="#b4b4b4"/>
<rect x="1064" y="599" width="3" height="1" fill="#b4b4b4"/>
<rect x="1070" y="599" width="3" height="1" fill="#b4b4b4"/>
<rect x="1076" y="599" width="3" height="1" fill="#b4b4b4"/>
<rect x="1082" y="599" width="3" height="1" fill="#b4b4b4"/>
<rect x="1088" y="599" width="3" height="1" fill="#b4b4b4"/>
<rect x="1094" y="599" width="3" height="1" fill="#b4b4b4"/>
<rect x="1100" y="599" width="3" height="1" fill="#b4b4b4"/>
<rect x="1106" y="599" width="3" height="1" fill="#b4b4b4"/>
<rect x="1112" y="599" width="3" height="1" fill="#b4b4b4"/>
<rect x="1118" y="599" width="3" height="1" fill="#b4b4b4"/>
<rect x="1124" y="599" width="3" height="1" fill="#b4b4b4"/>
<rect x="1130" y="599" width="3" height="1" fill="#b4b4b4"/>
<rect x="1136" y="599" width="3" height="1" fill="#b4b4b4"/>
<rect x="1142" y="599" width="3" height="1" fill="#b4b4b4"/>
<rect x="1148" y="599" width="3" height="1" fill="#b4b4b4"/>
<rect x="1154" y="599" width="3" height="1" fill="#b4b4b4"/>
<rect x="1160" y="599" width="3" height="1" fill="#b4b4b4"/>
<rect x="2" y="633" width="3" height="1" fill="#b4b4b4"/>
<rect x="8" y="633" width="3" height="1" fill="#b4b4b4"/>
<rect x="14" y="633" width="3" height="1" fill="#b4b4b4"/>
<rect x="20" y="633" width="3" height="1" fill="#b4b4b4"/>
<rect x="26" y="633" width="3" height="1" fill="#b4b4b4"/>
<rect x="32" y="633" width="3" height="1" fill="#b4b4b4"/>
<rect x="38" y="633" width="3" height="1" fill="#b4b4b4"/>
<rect x="44" y="633" width="3" height="1" fill="#b4b4b4"/>
<rect x="50" y="633" width="3" height="1" fill="#b4b4b4"/>
<rect x="56" y="633" width="3" height="1" fill="#b4b4b4"/>
<rect x="62" y="633" width="3" height="1" fill="#b4b4b4"/>
<rect x="68" y="633" width="3" height="1" fill="#b4b4b4"/>
<rect x="74" y="633" width="3" height="1" fill="#b4b4b4"/>
<rect x="80" y="633" width="3" height="1" fill="#b4b4b4"/>
<rect x="86" y="633" width="3" height="1" fill="#b4b4b4"/>
<rect x="92" y="633" width="3" height="1" fill="#b4b4b4"/>
<rect x="98" y="633" width="3" height="1" fill="#b4b4b4"/>
<rect x="104" y="633" width="3" height="1" fill="#b4b4b4"/>
<rect x="110" y="633" width="3" height="1" fill="#b4b4b4"/>
<rect x="116" y="633" width="3" height="1" fill="#b4b4b4"/>
<rect x="122" y="633" width="3" height="1" fill="#b4b4b4"/>
<rect x="128" y="633" width="3" height="1" fill="#b4b4b4"/>
<rect x="134" y="633" width="3" height="1" fill="#b4b4b4"/>
<rect x="140" y="633" width="3" height="1" fill="#b4b4b4"/>
<rect x="146" y="633" width="3" height="1" fill="#b4b4b4"/>
<rect x="152" y="633" width="3" height="1" fill="#b4b4b4"/>
<rect x="158" y="633" width="3" height="1" fill="#b4b4b4"/>
<rect x="164" y="633" width="3" height="1" fill="#b4b4b4"/>
<rect x="170" y="633" width="3" height="1" fill="#b4b4b4"/>
<rect x="176" y="633" width="3" height="1" fill="#b4b4b4"/>
<rect x="182" y="633" width="3" height="1" fill="#b4b4b4"/>
<rect x="188" y="633" width="3" height="1" fill="#b4b4b4"/>
<rect x="194" y="633" width="3" height="1" fill="#b4b4b4"/>
<rect x="200" y="633" width="3" height="1" fill="#b4b4b4"/>
<rect x="206" y="633" width="3" height="1" fill="#b4b4b4"/>
<rect x="212" y="633" width="3" height="1" fill="#b4b4b4"/>
<rect x="218" y="633" width="3" height="1" fill="#b4b4b4"/>
<rect x="224" y="633" width="3" height="1" fill="#b4b4b4"/>
<rect x="230" y="633" width="3" height="1" fill="#b4b4b4"/>
<rect x="236" y="633" width="3" height="1" fill="#b4b4b4"/>
<rect x="242" y="633" width="3" height="1" fill="#b4b4b4"/>
<rect x="248" y="633" width="3" height="1" fill="#b4b4b4"/>
<rect x="254" y="633" width="3" height="1" fill="#b4b4b4"/>
<rect x="260" y="633" width="3" height="1" fill="#b4b4b4"/>
<rect x="266" y="633" width="3" height="1" fill="#b4b4b4"/>
<rect x="272" y="633" width="3" height="1" fill="#b4b4b4"/>
<rect x="278" y="633" width="3" height="1" fill="#b4b4b4"/>
<rect x="284" y="633" width="3" height="1" fill="#b4b4b4"/>
<rect x="290" y="633" width="3" height="1" fill="#b4b4b4"/>
<rect x="296" y="633" width="3" height="1" fill="#b4b4b4"/>
<rect x="302" y="633" width="3" height="1" fill="#b4b4b4"/>
<rect x="308" y="633" width="3" height="1" fill="#b4b4b4"/>
<rect x="314" y="633" width="3" height="1" fill="#b4b4b4"/>
<rect x="320" y="633" width="3" height="1" fill="#b4b4b4"/>
<rect x="326" y="633" width="3" height="1" fill="#b4b4b4"/>
<rect x="332" y="633" width="3" height="1" fill="#b4b4b4"/>
<rect x="338" y="633" width="3" height="1" fill="#b4b4b4"/>
<rect x="344" y="633" width="3" height="1" fill="#b4b4b4"/>
<rect x="350" y="633" width="3" height="1" fill="#b4b4b4"/>
<rect x="356" y="633" width="3" height="1" fill="#b4b4b4"/>
<rect x="362" y="633" width="3" height="1" fill="#b4b4b4"/>
<rect x="368" y="633" width="3" height="1" fill="#b4b4b4"/>
<rect x="374" y="633" width="3" height="1" fill="#b4b4b4"/>
<rect x="380" y="633" width="3" height="1" fill="#b4b4b4"/>
<rect x="386" y="633" width="3" height="1" fill="#b4b4b4"/>
<rect x="392" y="633" width="3" height="1" fill="#b4b4b4"/>
<rect x="398" y="633" width="3" height="1" fill="#b4b4b4"/>
<rect x="404" y="633" width="3" height="1" fill="#b4b4b4"/>
<rect x="410" y="633" width="3" height="1" fill="#b4b4b4"/>
<rect x="416" y="633" width="3" height="1" fill="#b4b4b4"/>
<rect x="422" y="633" width="3" height="1" fill="#b4b4b4"/>
<rect x="428" y="633" width="3" height="1" fill="#b4b4b4"/>
<rect x="434" y="633" width="3" height="1" fill="#b4b4b4"/>
<rect x="440" y="633" width="3" height="1" fill="#b4b4b4"/>
<rect x="446" y="633" width="3" height="1" fill="#b4b4b4"/>
<rect x="452" y="633" width="3" height="1" fill="#b4b4b4"/>
<rect x="458" y="633" width="3" height="1" fill="#b4b4b4"/>
<rect x="464" y="633" width="3" height="1" fill="#b4b4b4"/>
<rect x="470" y="633" width="3" height="1" fill="#b4b4b4"/>
<rect x="476" y="633" width="3" height="1" fill="#b4b4b4"/>
<rect x="482" y="633" width="3" height="1" fill="#b4b4b4"/>
<rect x="488" y="633" width="3" height="1" fill="#b4b4b4"/>
<rect x="494" y="633" width="3" height="1" fill="#b4b4b4"/>
<rect x="500" y="633" width="3" height="1" fill="#b4b4b4"/>
<rect x="506" y="633" width="3" height="1" fill="#b4b4b4"/>
<rect x="512" y="633" width="3" height="1" fill="#b4b4b4"/>
<rect x="518" y="633" width="3" height="1" fill="#b4b4b4"/>
<rect x="524" y="633" width="3" height="1" fill="#b4b4b4"/>
<rect x="530" y="633" width="3" height="1" fill="#b4b4b4"/>
<rect x="536" y="633" width="3" height="1" fill="#b4b4b4"/>
<rect x="542" y="633" width="3" height="1" fill="#b4b4b4"/>
<rect x="548" y="633" width="3" height="1" fill="#b4b4b4"/>
<rect x="554" y="633" width="3" height="1" fill="#b4b4b4"/>
<rect x="560" y="633" width="3" height="1" fill="#b4b4b4"/>
<rect x="566" y="633" width="3" height="1" fill="#b4b4b4"/>
<rect x="572" y="633" width="3" height="1" fill="#b4b4b4"/>
<rect x="578" y="633" width="3" height="1" fill="#b4b4b4"/>
<rect x="584" y="633" width="3" height="1" fill="#b4b4b4"/>
<rect x="590" y="633" width="3" height="1" fill="#b4b4b4"/>
<rect x="596" y="633" width="3" height="1" fill="#b4b4b4"/>
<rect x="602" y="633" width="3" height="1" fill="#b4b4b4"/>
<rect x="608" y="633" width="3" height="1" fill="#b4b4b4"/>
<rect x="614" y="633" width="3" height="1" fill="#b4b4b4"/>
<rect x="620" y="633" width="3" height="1" fill="#b4b4b4"/>
<rect x="626" y="633" width="3" height="1" fill="#b4b4b4"/>
<rect x="632" y="633" width="3" height="1" fill="#b4b4b4"/>
<rect x="638" y="633" width="3" height="1" fill="#b4b4b4"/>
<rect x="644" y="633" width="3" height="1" fill="#b4b4b4"/>
<rect x="650" y="633" width="3" height="1" fill="#b4b4b4"/>
<rect x="656" y="633" width="3" height="1" fill="#b4b4b4"/>
<rect x="662" y="633" width="3" height="1" fill="#b4b4b4"/>
<rect x="668" y="633" width="3" height="1" fill="#b4b4b4"/>
<rect x="674" y="633" width="3" height="1" fill="#b4b4b4"/>
<rect x="680" y="633" width="3" height="1" fill="#b4b4b4"/>
<rect x="686" y="633" width="3" height="1" fill="#b4b4b4"/>
<rect x="692" y="633" width="3" height="1" fill="#b4b4b4"/>
<rect x="698" y="633" width="3" height="1" fill="#b4b4b4"/>
<rect x="704" y="633" width="3" height="1" fill="#b4b4b4"/>
<rect x="710" y="633" width="3" height="1" fill="#b4b4b4"/>
<rect x="716" y="633" width="3" height="1" fill="#b4b4b4"/>
<rect x="722" y="633" width="3" height="1" fill="#b4b4b4"/>
<rect x="728" y="633" width="3" height="1" fill="#b4b4b4"/>
<rect x="734" y="633" width="3" height="1" fill="#b4b4b4"/>
<rect x="740" y="633" width="3" height="1" fill="#b4b4b4"/>
<rect x="746" y="633" width="3" height="1" fill="#b4b4b4"/>
<rect x="752" y="633" width="3" height="1" fill="#b4b4b4"/>
<rect x="758" y="633" width="3" height="1" fill="#b4b4b4"/>
<rect x="764" y="633" width="3" height="1" fill="#b4b4b4"/>
<rect x="770" y="633" width="3" height="1" fill="#b4b4b4"/>
<rect x="776" y="633" width="3" height="1" fill="#b4b4b4"/>
<rect x="782" y="633" width="3" height="1" fill="#b4b4b4"/>
<rect x="788" y="633" width="3" height="1" fill="#b4b4b4"/>
<rect x="794" y="633" width="3" height="1" fill="#b4b4b4"/>
<rect x="800" y="633" width="3" height="1" fill="#b4b4b4"/>
<rect x="806" y="633" width="3" height="1" fill="#b4b4b4"/>
<rect x="812" y="633" width="3" height="1" fill="#b4b4b4"/>
<rect x="818" y="633" width="3" height="1" fill="#b4b4b4"/>
<rect x="824" y="633" width="3" height="1" fill="#b4b4b4"/>
<rect x="830" y="633" width="3" height="1" fill="#b4b4b4"/>
<rect x="836" y="633" width="3" height="1" fill="#b4b4b4"/>
<rect x="842" y="633" width="3" height="1" fill="#b4b4b4"/>
<rect x="848" y="633" width="3" height="1" fill="#b4b4b4"/>
<rect x="854" y="633" width="3" height="1" fill="#b4b4b4"/>
<rect x="860" y="633" width="3" height="1" fill="#b4b4b4"/>
<rect x="866" y="633" width="3" height="1" fill="#b4b4b4"/>
<rect x="872" y="633" width="3" height="1" fill="#b4b4b4"/>
<rect x="878" y="633" width="3" height="1" fill="#b4b4b4"/>
<rect x="884" y="633" width="3" height="1" fill="#b4b4b4"/>
<rect x="890" y="633" width="3" height="1" fill="#b4b4b4"/>
<rect x="896" y="633" width="3" height="1" fill="#b4b4b4"/>
<rect x="902" y="633" width="3" height="1" fill="#b4b4b4"/>
<rect x="908" y="633" width="3" height="1" fill="#b4b4b4"/>
<rect x="914" y="633" width="3" height="1" fill="#b4b4b4"/>
<rect x="920" y="633" width="3" height="1" fill="#b4b4b4"/>
<rect x="926" y="633" width="3" height="1" fill="#b4b4b4"/>
<rect x="932" y="633" width="3" height="1" fill="#b4b4b4"/>
<rect x="938" y="633" width="3" height="1" fill="#b4b4b4"/>
<rect x="944" y="633" width="3" height="1" fill="#b4b4b4"/>
<rect x="950" y="633" width="3" height="1" fill="#b4b4b4"/>
<rect x="956" y="633" width="3" height="1" fill="#b4b4b4"/>
<rect x="962" y="633" width="3" height="1" fill="#b4b4b4"/>
<rect x="968" y="633" width="3" height="1" fill="#b4b4b4"/>
<rect x="974" y="633" width="3" height="1" fill="#b4b4b4"/>
<rect x="980" y="633" width="3" height="1" fill="#b4b4b4"/>
<rect x="986" y="633" width="3" height="1" fill="#b4b4b4"/>
<rect x="992" y="633" width="3" height="1" fill="#b4b4b4"/>
<rect x="998" y="633" width="3" height="1" fill="#b4b4b4"/>
<rect x="1004" y="633" width="3" height="1" fill="#b4b4b4"/>
<rect x="1010" y="633" width="3" height="1" fill="#b4b4b4"/>
<rect x="1016" y="633" width="3" height="1" fill="#b4b4b4"/>
<rect x="1022" y="633" width="3" height="1" fill="#b4b4b4"/>
<rect x="1028" y="633" width="3" height="1" fill="#b4b4b4"/>
<rect x="1034" y="633" width="3" height="1" fill="#b4b4b4"/>
<rect x="1040" y="633" width="3" height="1" fill="#b4b4b4"/>
<rect x="1046" y="633" width="3" height="1" fill="#b4b4b4"/>
<rect x="1052" y="633" width="3" height="1" fill="#b4b4b4"/>
<rect x="1058" y="633" width="3" height="1" fill="#b4b4b4"/>
<rect x="1064" y="633" width="3" height="1" fill="#b4b4b4"/>
<rect x="1070" y="633" width="3" height="1" fill="#b4b4b4"/>
<rect x="1076" y="633" width="3" height="1" fill="#b4b4b4"/>
<rect x="1082" y="633" width="3" height="1" fill="#b4b4b4"/>
<rect x="1088" y="633" width="3" height="1" fill="#b4b4b4"/>
<rect x="1094" y="633" width="3" height="1" fill="#b4b4b4"/>
<rect x="1100" y="633" width="3" height="1" fill="#b4b4b4"/>
<rect x="1106" y="633" width="3" height="1" fill="#b4b4b4"/>
<rect x="1112" y="633" width="3" height="1" fill="#b4b4b4"/>
<rect x="1118" y="633" width="3" height="1" fill="#b4b4b4"/>
<rect x="1124" y="633" width="3" height="1" fill="#b4b4b4"/>
<rect x="1130" y="633" width="3" height="1" fill="#b4b4b4"/>
<rect x="1136" y="633" width="3" height="1" fill="#b4b4b4"/>
<rect x="1142" y="633" width="3" height="1" fill="#b4b4b4"/>
<rect x="1148" y="633" width="3" height="1" fill="#b4b4b4"/>
<rect x="1154" y="633" width="3" height="1" fill="#b4b4b4"/>
<rect x="1160" y="633" width="3" height="1" fill="#b4b4b4"/>
<path d="M1.3,625.5 L3.3,628.2 L5.3,624.2 L7.3,622.9 L10.0,620.2 L12.0,621.6 L13.3,623.6 L14.6,628.9 L15.7,632.8 L17.3,632.8 L19.3,627.5 L21.2,629.3 L23.9,626.9 L25.2,629.3 L26.6,620.2 L27.9,617.6 L29.2,618.9 L31.2,618.2 L33.2,610.9 L34.5,610.3 L37.2,610.7 L39.2,616.9 L41.8,621.6 L44.5,624.2 L47.1,626.2 L49.8,628.2 L51.1,626.9 L53.1,619.6 L54.4,619.2 L57.1,622.2 L60.4,622.6 L63.7,623.6 L65.7,626.2 L67.7,622.6 L69.7,624.0 L72.4,624.9 L73.7,624.9 L75.4,630.2 L77.0,624.2 L79.0,619.6 L81.0,623.2 L84.3,623.6 L87.6,626.2 L89.6,618.2 L91.6,615.6 L94.3,614.9 L95.6,613.6 L97.6,618.2 L98.9,611.6 L101.6,609.3 L102.9,612.9 L105.6,618.6 L108.2,614.9 L110.9,612.3 L113.5,607.6 L115.5,611.6 L117.5,612.3 L119.5,615.2 L121.5,611.6 L123.5,611.6 L125.5,612.9 L127.5,616.0 L129.5,615.6 L131.5,616.2 L133.5,613.6 L135.5,614.3 L137.5,618.9 L139.4,626.6 L140.8,621.6 L142.8,619.6 L145.4,618.2 L147.4,608.3 L149.4,614.3 L151.4,616.9 L154.0,616.9 L156.7,614.9 L158.3,613.9 L159.6,611.2 L161.0,605.2 L163.6,600.6 L165.6,605.9 L167.6,605.0 L169.6,603.6 L171.6,605.2 L172.9,619.8 L174.9,618.5 L178.9,618.5 L181.6,615.6 L184.2,619.8 L187.5,623.2 L190.2,623.2 L193.5,620.5 L196.2,623.6 L198.8,624.5 L202.1,623.2 L204.1,623.8 L205.5,622.5 L207.5,627.1 L209.4,632.5 L211.4,621.8 L214.1,620.5 L217.4,620.5 L219.4,619.8 L221.4,623.8 L223.4,622.5 L225.4,623.2 L227.4,626.5 L229.4,626.5 L231.4,614.5 L233.4,610.5 L235.3,607.6 L238.0,609.5 L240.7,609.2 L243.3,613.2 L245.3,609.9 L248.0,609.0 L250.6,607.6 L253.3,611.2 L255.9,612.9 L258.6,613.9 L261.2,615.2 L263.2,612.5 L265.2,615.6 L267.2,613.2 L269.2,609.9 L270.5,611.9 L271.6,614.5 L272.5,599.9 L273.5,593.3 L275.2,594.3 L277.2,593.3 L279.8,588.0 L282.5,586.4 L286.5,586.6 L289.1,587.3 L291.1,586.6 L293.8,584.6 L295.8,586.4 L299.1,586.4 L302.4,590.0 L303.7,593.3 L305.1,600.6 L307.1,601.2 L309.3,604.3 L311.7,601.2 L313.0,599.9 L315.3,598.3 L317.3,602.6 L319.3,603.6 L321.3,609.2 L323.3,606.6 L325.9,609.2 L327.9,613.9 L329.7,618.5 L331.2,615.2 L333.6,610.5 L337.2,609.2 L339.2,611.9 L341.2,614.3 L343.2,611.9 L345.2,613.9 L347.8,616.1 L349.8,615.9 L351.8,619.8 L353.6,624.5 L355.2,615.2 L357.8,613.9 L359.8,612.5 L361.8,614.3 L363.8,613.2 L365.5,610.8 L367.4,613.2 L370.4,609.5 L373.1,610.3 L375.1,607.9 L377.1,605.9 L379.1,611.2 L381.0,609.5 L383.0,609.2 L385.7,605.9 L387.7,604.6 L391.0,598.6 L393.7,598.6 L397.0,597.3 L399.0,599.3 L401.4,607.2 L403.6,603.2 L406.9,601.5 L410.9,600.6 L412.9,609.9 L414.9,617.2 L417.3,623.2 L419.6,617.8 L421.6,619.8 L423.5,622.5 L425.5,618.8 L429.5,618.5 L431.5,619.2 L433.5,623.2 L435.5,612.5 L437.5,612.5 L440.1,610.3 L442.8,611.2 L445.5,613.9 L447.5,615.9 L449.4,609.9 L452.1,608.6 L455.4,606.6 L456.7,608.6 L458.1,619.8 L460.1,632.5 L462.7,633.8 L465.0,633.2 L467.7,631.8 L469.6,630.1 L471.4,632.5 L473.6,629.2 L475.6,629.6 L477.6,631.4 L479.6,629.8 L481.6,625.9 L483.3,623.2 L485.2,626.1 L487.6,624.3 L489.6,625.2 L491.6,626.1 L494.2,623.9 L496.2,619.9 L497.5,617.2 L499.3,619.0 L500.9,613.2 L501.9,611.2 L504.2,612.8 L506.2,613.9 L507.5,611.2 L508.6,614.6 L510.8,621.2 L513.5,624.8 L515.5,623.2 L517.5,626.1 L519.2,629.2 L520.8,614.6 L522.8,611.2 L524.8,614.6 L526.8,611.9 L529.4,613.2 L531.4,611.9 L534.1,610.2 L536.7,609.7 L539.4,611.0 L540.7,608.6 L542.7,606.3 L544.0,607.3 L545.3,615.9 L547.3,617.2 L550.0,615.9 L552.0,614.6 L553.3,612.6 L554.6,615.9 L555.6,617.9 L556.6,610.6 L558.0,606.2 L560.0,607.0 L561.9,609.3 L563.9,609.3 L566.6,607.3 L567.9,611.9 L569.9,617.9 L571.9,621.2 L573.9,621.9 L576.6,621.6 L579.2,620.8 L581.2,624.3 L582.5,613.9 L584.5,615.0 L586.5,614.2 L588.5,612.3 L591.2,610.6 L593.8,610.6 L595.8,609.7 L597.8,614.6 L599.8,617.2 L601.8,617.9 L604.4,623.2 L606.4,626.1 L609.1,627.8 L611.7,628.2 L613.5,623.9 L615.3,616.6 L617.1,624.8 L619.1,629.6 L620.0,628.9 L622.7,626.5 L625.3,623.8 L627.3,623.2 L629.3,618.5 L630.6,623.8 L632.6,631.1 L634.6,633.1 L637.3,634.4 L639.9,636.4 L642.6,638.2 L645.2,638.4 L647.9,635.8 L649.5,632.9 L651.2,635.8 L653.2,632.5 L656.5,631.5 L659.8,632.5 L662.5,633.1 L665.2,635.1 L667.1,631.8 L669.8,631.1 L673.1,628.9 L674.4,631.1 L676.4,633.1 L679.1,627.8 L681.1,629.8 L683.7,631.1 L685.1,629.8 L687.1,625.8 L688.4,629.1 L689.3,632.5 L690.4,621.2 L691.7,617.2 L693.7,615.2 L695.7,612.5 L697.7,612.9 L699.7,614.8 L701.7,614.3 L703.7,613.2 L705.7,616.1 L707.6,612.5 L710.3,610.5 L711.6,608.6 L712.6,604.6 L713.6,598.6 L715.6,595.3 L718.3,593.3 L720.3,593.9 L722.9,592.0 L725.6,588.6 L727.6,590.4 L730.2,588.2 L732.2,588.6 L733.5,590.4 L736.9,588.0 L739.5,587.3 L741.5,587.6 L743.5,589.3 L746.2,588.6 L747.5,590.0 L748.8,597.9 L750.8,599.9 L752.8,599.9 L755.5,600.6 L757.5,601.2 L759.4,599.7 L761.4,597.5 L764.8,596.6 L766.7,597.3 L768.7,599.3 L770.1,599.9 L772.1,610.5 L774.1,623.8 L776.0,629.1 L777.0,629.6 L779.0,629.8 L781.4,626.5 L783.2,631.8 L785.4,636.2 L787.6,631.8 L789.6,631.2 L791.6,629.6 L793.6,627.8 L795.6,631.4 L797.3,629.2 L799.6,620.5 L801.6,620.5 L804.2,621.2 L807.3,621.6 L808.9,615.9 L811.5,609.7 L813.5,614.2 L815.5,607.3 L817.2,607.5 L819.5,617.2 L822.1,613.9 L825.2,610.6 L827.1,613.9 L829.2,617.2 L831.4,614.6 L833.4,614.2 L836.1,613.6 L839.0,617.9 L841.4,617.2 L843.4,617.9 L845.4,625.2 L847.4,623.9 L849.4,626.5 L852.7,623.2 L856.0,625.6 L858.7,624.8 L860.7,622.9 L861.6,623.9 L863.3,616.6 L866.6,619.9 L869.3,619.2 L873.0,620.5 L875.9,617.9 L877.9,614.6 L879.9,607.9 L881.2,603.3 L883.6,608.3 L885.9,606.6 L888.5,610.6 L889.9,612.6 L891.6,610.6 L893.2,613.9 L895.2,625.2 L897.2,626.9 L899.6,629.2 L901.8,618.6 L904.5,613.6 L907.5,610.2 L910.5,611.2 L913.1,615.9 L915.8,619.9 L917.4,622.5 L919.8,613.2 L921.7,614.6 L924.8,615.5" stroke="#1e90ff" stroke-width="1" fill="none"/>
<rect x="1164" y="85" width="2" height="1" fill="#000"/>
<text x="1168.6" y="89" font-size="9.6" fill="#000" textLength="33.6" lengthAdjust="spacingAndGlyphs">0.92430</text>
<rect x="1164" y="118" width="2" height="1" fill="#000"/>
<text x="1168.6" y="122" font-size="9.6" fill="#000" textLength="33.6" lengthAdjust="spacingAndGlyphs">0.92160</text>
<rect x="1164" y="151" width="2" height="1" fill="#000"/>
<text x="1168.6" y="155" font-size="9.6" fill="#000" textLength="33.6" lengthAdjust="spacingAndGlyphs">0.91890</text>
<rect x="1164" y="184" width="2" height="1" fill="#000"/>
<text x="1168.6" y="188" font-size="9.6" fill="#000" textLength="33.6" lengthAdjust="spacingAndGlyphs">0.91615</text>
<rect x="1164" y="217" width="2" height="1" fill="#000"/>
<text x="1168.6" y="221" font-size="9.6" fill="#000" textLength="33.6" lengthAdjust="spacingAndGlyphs">0.91345</text>
<rect x="1164" y="250" width="2" height="1" fill="#000"/>
<text x="1168.6" y="254" font-size="9.6" fill="#000" textLength="33.6" lengthAdjust="spacingAndGlyphs">0.91075</text>
<rect x="1164" y="283" width="2" height="1" fill="#000"/>
<text x="1168.6" y="287" font-size="9.6" fill="#000" textLength="33.6" lengthAdjust="spacingAndGlyphs">0.90805</text>
<rect x="1164" y="316" width="2" height="1" fill="#000"/>
<text x="1168.6" y="320" font-size="9.6" fill="#000" textLength="33.6" lengthAdjust="spacingAndGlyphs">0.90535</text>
<rect x="1164" y="349" width="2" height="1" fill="#000"/>
<text x="1168.6" y="353" font-size="9.6" fill="#000" textLength="33.6" lengthAdjust="spacingAndGlyphs">0.90265</text>
<rect x="1164" y="382" width="2" height="1" fill="#000"/>
<text x="1168.6" y="386" font-size="9.6" fill="#000" textLength="33.6" lengthAdjust="spacingAndGlyphs">0.89990</text>
<rect x="1164" y="415" width="2" height="1" fill="#000"/>
<text x="1168.6" y="419" font-size="9.6" fill="#000" textLength="33.6" lengthAdjust="spacingAndGlyphs">0.89720</text>
<rect x="1164" y="448" width="2" height="1" fill="#000"/>
<text x="1168.6" y="452" font-size="9.6" fill="#000" textLength="33.6" lengthAdjust="spacingAndGlyphs">0.89450</text>
<rect x="1164" y="481" width="2" height="1" fill="#000"/>
<text x="1168.6" y="485" font-size="9.6" fill="#000" textLength="33.6" lengthAdjust="spacingAndGlyphs">0.89180</text>
<rect x="1165" y="46" width="40" height="11" fill="#ff0000"/>
<text x="1168.6" y="55" font-size="9.6" fill="#fff" textLength="33.6" lengthAdjust="spacingAndGlyphs">0.92699</text>
<rect x="1165" y="149" width="40" height="11" fill="#ff0000"/>
<text x="1168.6" y="158" font-size="9.6" fill="#fff" textLength="33.6" lengthAdjust="spacingAndGlyphs">0.91855</text>
<rect x="1165" y="192" width="40" height="11" fill="#000000"/>
<text x="1168.6" y="201" font-size="9.6" fill="#fff" textLength="33.6" lengthAdjust="spacingAndGlyphs">0.91513</text>
<rect x="1165" y="228" width="40" height="11" fill="#00ff00"/>
<text x="1168.6" y="237" font-size="9.6" fill="#fff" textLength="33.6" lengthAdjust="spacingAndGlyphs">0.91208</text>
<rect x="1165" y="326" width="40" height="11" fill="#0000ff"/>
<text x="1168.6" y="335" font-size="9.6" fill="#fff" textLength="33.6" lengthAdjust="spacingAndGlyphs">0.90405</text>
<rect x="1165" y="424" width="40" height="11" fill="#0000ff"/>
<text x="1168.6" y="433" font-size="9.6" fill="#fff" textLength="33.6" lengthAdjust="spacingAndGlyphs">0.89602</text>
<rect x="1164" y="488" width="1" height="1" fill="#000"/>
<text x="1167" y="497" font-size="9.6" fill="#000" textLength="38.5" lengthAdjust="spacingAndGlyphs">0.006451</text>
<rect x="1164" y="541" width="1" height="1" fill="#000"/>
<text x="1167" y="545" font-size="9.6" fill="#000" textLength="17.3" lengthAdjust="spacingAndGlyphs">0.00</text>
<rect x="1164" y="568" width="1" height="1" fill="#000"/>
<text x="1166.6" y="567" font-size="9.6" fill="#000" textLength="42" lengthAdjust="spacingAndGlyphs">-0.003507</text>
<rect x="1164" y="574" width="1" height="1" fill="#000"/>
<rect x="1164" y="658" width="1" height="1" fill="#000"/>
<text x="1167.2" y="583" font-size="9.6" fill="#000" textLength="15.2" lengthAdjust="spacingAndGlyphs">100</text>
<text x="1166.2" y="603" font-size="9.6" fill="#000" textLength="10.2" lengthAdjust="spacingAndGlyphs">70</text>
<text x="1166.2" y="637" font-size="9.6" fill="#000" textLength="10.2" lengthAdjust="spacingAndGlyphs">30</text>
<text x="1166.8" y="656" font-size="9.6" fill="#000" textLength="5.2" lengthAdjust="spacingAndGlyphs">0</text>
<path d="M4,35 L7.5,30.5 L11,35 Z" fill="#000"/>
<text x="15.6" y="36" font-size="9.8" fill="#000" textLength="56" lengthAdjust="spacingAndGlyphs">USDCHF,H4</text>
<text x="76.5" y="36" font-size="9.6" fill="#000" textLength="33.5" lengthAdjust="spacingAndGlyphs">0.91521</text>
<text x="112.5" y="36" font-size="9.6" fill="#000" textLength="33.5" lengthAdjust="spacingAndGlyphs">0.91523</text>
<text x="148.7" y="36" font-size="9.6" fill="#000" textLength="33.5" lengthAdjust="spacingAndGlyphs">0.91513</text>
<text x="184.4" y="36" font-size="9.6" fill="#000" textLength="33.5" lengthAdjust="spacingAndGlyphs">0.91513</text>
<text x="4.8" y="499" font-size="9.6" fill="#000" textLength="148.5" lengthAdjust="spacingAndGlyphs">MACD(12,26,9) 0.000041 0.000018</text>
<text x="4.8" y="585" font-size="9.6" fill="#000" textLength="68.7" lengthAdjust="spacingAndGlyphs">RSI(14) 50.6409</text>
<rect x="1" y="660" width="1" height="3" fill="#000"/>
<text x="0.4" y="672" font-size="9.6" fill="#000" textLength="53.5" lengthAdjust="spacingAndGlyphs">17 May 2021</text>
<rect x="65" y="660" width="1" height="3" fill="#000"/>
<text x="63.9" y="672" font-size="9.6" fill="#000" textLength="57.5" lengthAdjust="spacingAndGlyphs">24 May 19:00</text>
<rect x="129" y="660" width="1" height="3" fill="#000"/>
<text x="127.9" y="672" font-size="9.6" fill="#000" textLength="49" lengthAdjust="spacingAndGlyphs">1 Jun 00:00</text>
<rect x="193" y="660" width="1" height="3" fill="#000"/>
<text x="191.9" y="672" font-size="9.6" fill="#000" textLength="49" lengthAdjust="spacingAndGlyphs">8 Jun 10:00</text>
<rect x="257" y="660" width="1" height="3" fill="#000"/>
<text x="255.9" y="672" font-size="9.6" fill="#000" textLength="53.5" lengthAdjust="spacingAndGlyphs">15 Jun 18:00</text>
<rect x="321" y="660" width="1" height="3" fill="#000"/>
<text x="319.9" y="672" font-size="9.6" fill="#000" textLength="53.5" lengthAdjust="spacingAndGlyphs">23 Jun 00:00</text>
<rect x="385" y="660" width="1" height="3" fill="#000"/>
<text x="383.9" y="672" font-size="9.6" fill="#000" textLength="53.3" lengthAdjust="spacingAndGlyphs">30 Jun 10:00</text>
<rect x="449" y="660" width="1" height="3" fill="#000"/>
<text x="447.9" y="672" font-size="9.6" fill="#000" textLength="44.5" lengthAdjust="spacingAndGlyphs">7 Jul 18:00</text>
<rect x="513" y="660" width="1" height="3" fill="#000"/>
<text x="511.9" y="672" font-size="9.6" fill="#000" textLength="49.8" lengthAdjust="spacingAndGlyphs">15 Jul 00:00</text>
<rect x="577" y="660" width="1" height="3" fill="#000"/>
<text x="575.9" y="672" font-size="9.6" fill="#000" textLength="49.8" lengthAdjust="spacingAndGlyphs">22 Jul 10:00</text>
<rect x="641" y="660" width="1" height="3" fill="#000"/>
<text x="639.9" y="672" font-size="9.6" fill="#000" textLength="49.8" lengthAdjust="spacingAndGlyphs">29 Jul 18:00</text>
<rect x="705" y="660" width="1" height="3" fill="#000"/>
<text x="703.9" y="672" font-size="9.6" fill="#000" textLength="49.5" lengthAdjust="spacingAndGlyphs">6 Aug 00:00</text>
<rect x="769" y="660" width="1" height="3" fill="#000"/>
<text x="767.9" y="672" font-size="9.6" fill="#000" textLength="53.5" lengthAdjust="spacingAndGlyphs">13 Aug 10:00</text>
<rect x="833" y="660" width="1" height="3" fill="#000"/>
<text x="831.9" y="672" font-size="9.6" fill="#000" textLength="53.5" lengthAdjust="spacingAndGlyphs">20 Aug 18:00</text>
<rect x="897" y="660" width="1" height="3" fill="#000"/>
<text x="895.9" y="672" font-size="9.6" fill="#000" textLength="53.5" lengthAdjust="spacingAndGlyphs">28 Aug 00:00</text>
<rect x="0" y="680" width="1205" height="1" fill="#e3e3e3"/>
<rect x="0" y="682" width="1205" height="1" fill="#000"/>
<rect x="0" y="683" width="1205" height="19" fill="#f0f0f0"/>
<rect x="0" y="702" width="1205" height="2" fill="#fafafa"/>
<rect x="0" y="704" width="1205" height="2" fill="#f0f0f0"/>
<rect x="0" y="706" width="1205" height="1" fill="#a0a0a0"/>
<rect x="0" y="707" width="1205" height="2" fill="#ffffff"/>
<rect x="198" y="682" width="88" height="19" fill="#fff"/>
<rect x="198" y="682" width="1" height="19" fill="#000"/>
<rect x="285" y="682" width="1" height="19" fill="#000"/>
<rect x="198" y="700" width="88" height="1" fill="#000"/>
<rect x="199" y="682" width="86" height="1" fill="#fff"/>
<rect x="199" y="701" width="87" height="1" fill="#cfcfcf"/>
<text x="14.2" y="697" font-size="11.8" fill="#6d6d6d" textLength="67.8" lengthAdjust="spacingAndGlyphs">EURUSD,H4</text>
<text x="104.8" y="697" font-size="11.8" fill="#6d6d6d" textLength="82.2" lengthAdjust="spacingAndGlyphs">AUDUSD,Daily</text>
<text x="207.6" y="697" font-size="11.8" fill="#000" textLength="67.8" lengthAdjust="spacingAndGlyphs">USDCHF,H4</text>
<text x="297.2" y="697" font-size="11.8" fill="#6d6d6d" textLength="81.2" lengthAdjust="spacingAndGlyphs">USDCAD,Daily</text>
<text x="400.5" y="697" font-size="11.8" fill="#6d6d6d" textLength="82.3" lengthAdjust="spacingAndGlyphs">USDCNH,Daily</text>
<text x="506.3" y="697" font-size="11.8" fill="#6d6d6d" textLength="52" lengthAdjust="spacingAndGlyphs">UKOil,H1</text>
<text x="580" y="697" font-size="11.8" fill="#6d6d6d" textLength="47.2" lengthAdjust="spacingAndGlyphs">DJ30,H1</text>
<text x="650" y="697" font-size="11.8" fill="#6d6d6d" textLength="51.3" lengthAdjust="spacingAndGlyphs">USDX,H1</text>
<text x="724.7" y="697" font-size="11.8" fill="#6d6d6d" textLength="69.2" lengthAdjust="spacingAndGlyphs">XAUUSD,H1</text>
<text x="818" y="697" font-size="11.8" fill="#6d6d6d" textLength="68.2" lengthAdjust="spacingAndGlyphs">GBPUSD,H1</text>
<rect x="94" y="685" width="1" height="13" fill="#7a7a7a"/>
<rect x="390" y="685" width="1" height="13" fill="#7a7a7a"/>
<rect x="494" y="685" width="1" height="13" fill="#7a7a7a"/>
<rect x="570" y="685" width="1" height="13" fill="#7a7a7a"/>
<rect x="638" y="685" width="1" height="13" fill="#7a7a7a"/>
<rect x="714" y="685" width="1" height="13" fill="#7a7a7a"/>
<rect x="806" y="685" width="1" height="13" fill="#7a7a7a"/>
<rect x="898" y="685" width="1" height="13" fill="#7a7a7a"/>
<path d="M1182,687.5 L1178.5,691 L1182,694.5 Z" fill="#a0a0a0"/>
<path d="M1198,687.5 L1201.5,691 L1198,694.5 Z" fill="#a0a0a0"/>
<rect x="4" y="44" width="222" height="57" fill="#ffffff"/>
<rect x="4" y="44" width="52" height="25" fill="#b80000"/>
<rect x="4" y="68" width="109" height="33" fill="#b80000"/>
<rect x="5" y="45" width="50" height="24" fill="url(#gsell)"/>
<rect x="5" y="69" width="107" height="31" fill="url(#gsell)"/>
<rect x="171" y="44" width="52" height="25" fill="#b80000"/>
<rect x="115" y="68" width="108" height="33" fill="#b80000"/>
<rect x="172" y="45" width="50" height="24" fill="url(#gsell)"/>
<rect x="116" y="69" width="106" height="31" fill="url(#gsell)"/>
<rect x="8" y="67" width="44" height="1" fill="#7c0000"/>
<rect x="8" y="68" width="44" height="1" fill="#f07070"/>
<rect x="175" y="67" width="44" height="1" fill="#7c0000"/>
<rect x="175" y="68" width="44" height="1" fill="#f07070"/>
<rect x="58" y="44" width="111" height="22" fill="#a9adb4"/>
<rect x="59" y="45" width="109" height="20" fill="#ffffff"/>
<rect x="79" y="45" width="1" height="20" fill="#a9adb4"/>
<rect x="147" y="45" width="1" height="20" fill="#a9adb4"/>
<rect x="60" y="46" width="18" height="18" fill="url(#gbtn)"/>
<rect x="149" y="46" width="18" height="18" fill="url(#gbtn)"/>
<path d="M65.5,53 L71.5,53 L68.5,56 Z" fill="#4a62c8"/>
<path d="M154.5,56 L160.5,56 L157.5,53 Z" fill="#4a62c8"/>
<text x="119.8" y="59" font-size="12" fill="#000" textLength="24.6" lengthAdjust="spacingAndGlyphs">3.00</text>
<text x="16" y="60" font-size="12.2" fill="#fff0f0" textLength="26.5" lengthAdjust="spacingAndGlyphs">SELL</text>
<text x="184.4" y="60" font-size="12.2" fill="#fff0f0" textLength="23.8" lengthAdjust="spacingAndGlyphs">BUY</text>
<text x="23.4" y="96" font-size="11.5" fill="#fff" textLength="24.6" lengthAdjust="spacingAndGlyphs" font-weight="bold">0.91</text>
<text x="53" y="96" font-size="33" fill="#fff" textLength="32.6" lengthAdjust="spacingAndGlyphs">51</text>
<text x="90.5" y="80" font-size="11.5" fill="#fff" textLength="7.6" lengthAdjust="spacingAndGlyphs" font-weight="bold">6</text>
<text x="133.3" y="96" font-size="11.5" fill="#fff" textLength="24.6" lengthAdjust="spacingAndGlyphs" font-weight="bold">0.91</text>
<text x="163.4" y="96" font-size="33" fill="#fff" textLength="33.4" lengthAdjust="spacingAndGlyphs">53</text>
<text x="201.5" y="80" font-size="11.5" fill="#fff" textLength="7.6" lengthAdjust="spacingAndGlyphs" font-weight="bold">0</text>
</svg>
</div></body></html>
